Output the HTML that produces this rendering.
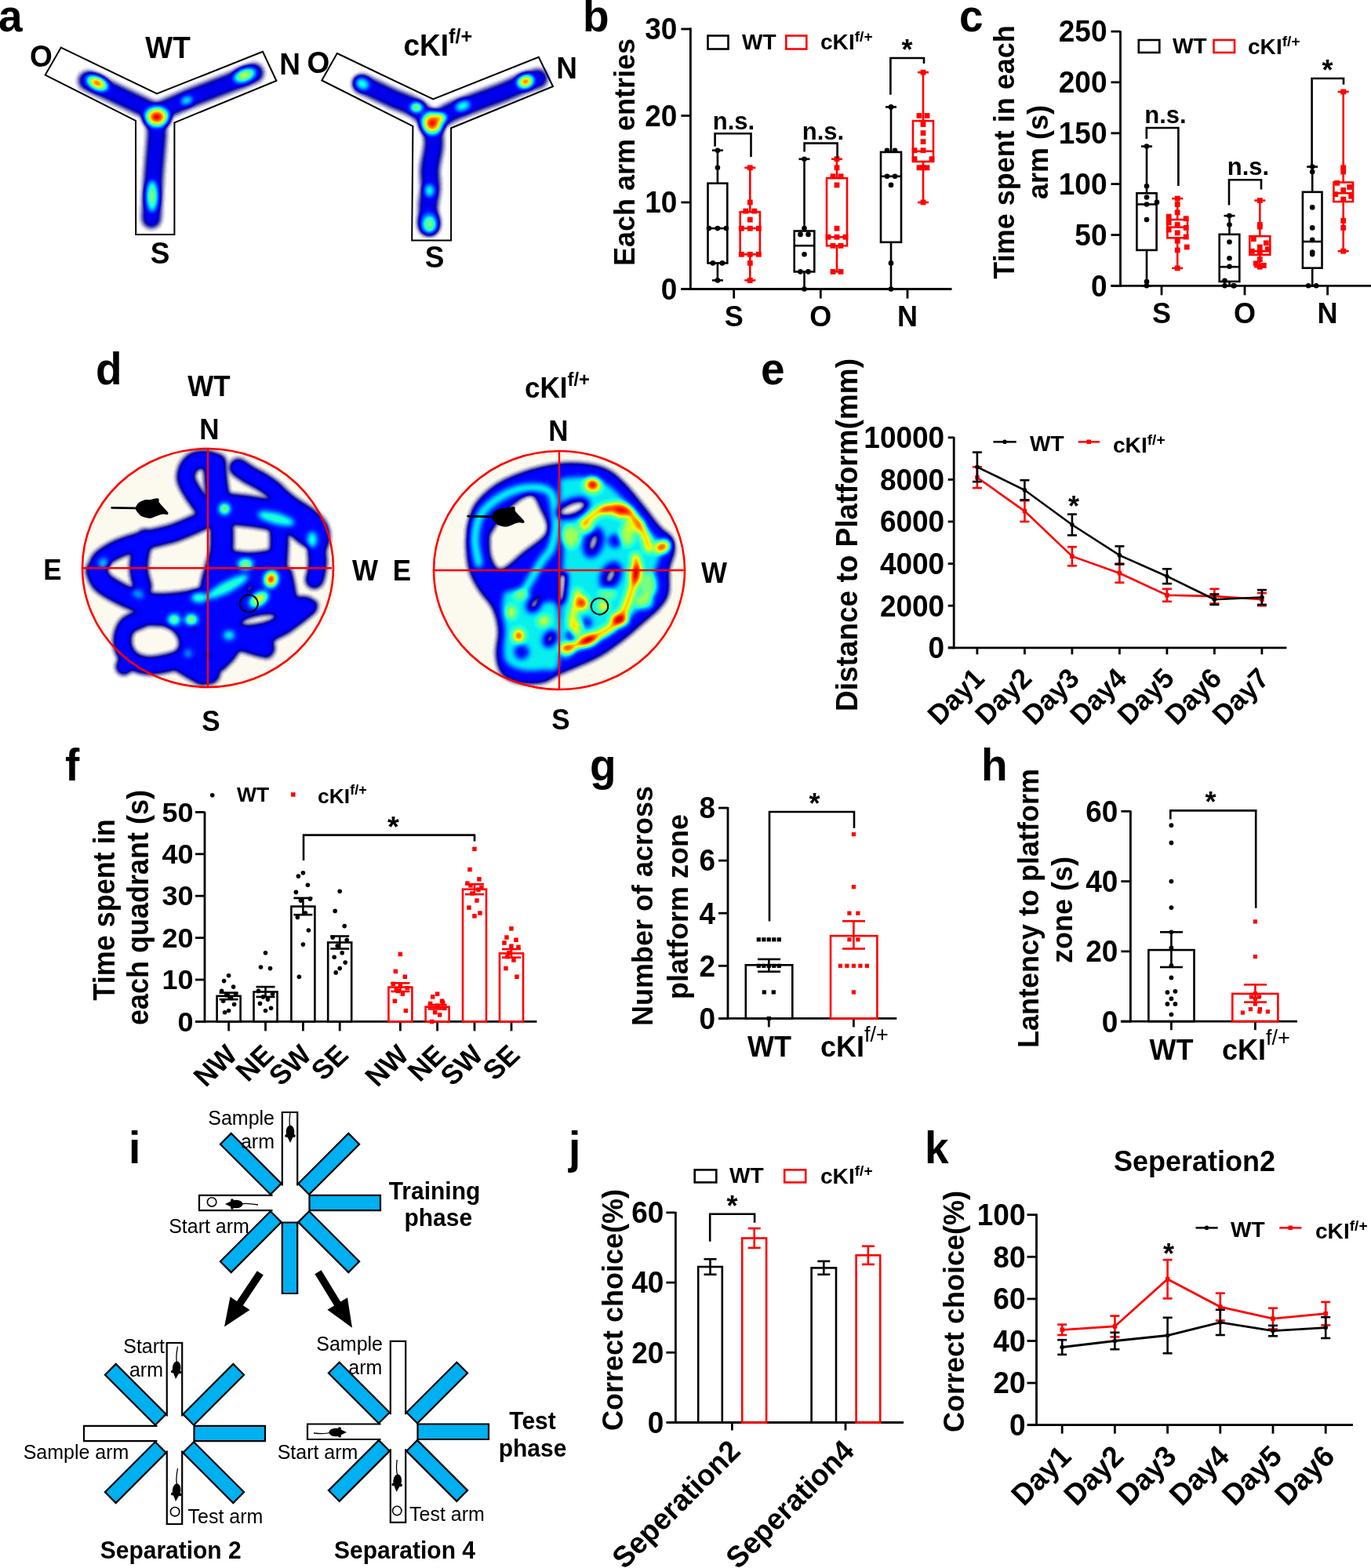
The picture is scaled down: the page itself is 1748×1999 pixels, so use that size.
<!DOCTYPE html><html><head><meta charset="utf-8"><style>html,body{margin:0;padding:0;background:#fff;}svg{display:block;}text{font-family:"Liberation Sans", sans-serif;font-weight:bold;}</style></head><body>
<svg width="1748" height="1999" viewBox="0 0 1748 1999">
<rect width="1748" height="1999" fill="#fff"/>
<text transform="translate(-2.0 40.0) scale(1 1.030)" font-size="55" text-anchor="start" fill="#000">a</text>
<text transform="translate(743.0 40.0) scale(1 1.030)" font-size="55" text-anchor="start" fill="#000">b</text>
<text transform="translate(1223.0 40.0) scale(1 1.030)" font-size="55" text-anchor="start" fill="#000">c</text>
<text transform="translate(122.0 490.0) scale(1 1.030)" font-size="55" text-anchor="start" fill="#000">d</text>
<text transform="translate(970.0 490.0) scale(1 1.030)" font-size="55" text-anchor="start" fill="#000">e</text>
<text transform="translate(83.0 995.0) scale(1 1.030)" font-size="55" text-anchor="start" fill="#000">f</text>
<text transform="translate(752.0 995.0) scale(1 1.030)" font-size="55" text-anchor="start" fill="#000">g</text>
<text transform="translate(1251.0 995.0) scale(1 1.030)" font-size="55" text-anchor="start" fill="#000">h</text>
<text transform="translate(164.0 1483.0) scale(1 1.030)" font-size="55" text-anchor="start" fill="#000">i</text>
<text transform="translate(725.0 1483.0) scale(1 1.030)" font-size="55" text-anchor="start" fill="#000">j</text>
<text transform="translate(1179.0 1483.0) scale(1 1.030)" font-size="55" text-anchor="start" fill="#000">k</text>
<line x1="880.4" y1="369.9" x2="880.4" y2="35.5" stroke="#000" stroke-width="2.8"/>
<line x1="868.4" y1="368.5" x2="880.4" y2="368.5" stroke="#000" stroke-width="2.8"/>
<text transform="translate(863.4 381.8) scale(1 1.030)" font-size="37" text-anchor="end" fill="#000">0</text>
<line x1="868.4" y1="258.0" x2="880.4" y2="258.0" stroke="#000" stroke-width="2.8"/>
<text transform="translate(863.4 271.3) scale(1 1.030)" font-size="37" text-anchor="end" fill="#000">10</text>
<line x1="868.4" y1="147.5" x2="880.4" y2="147.5" stroke="#000" stroke-width="2.8"/>
<text transform="translate(863.4 160.8) scale(1 1.030)" font-size="37" text-anchor="end" fill="#000">20</text>
<line x1="868.4" y1="37.0" x2="880.4" y2="37.0" stroke="#000" stroke-width="2.8"/>
<text transform="translate(863.4 50.3) scale(1 1.030)" font-size="37" text-anchor="end" fill="#000">30</text>
<line x1="868.5" y1="368.5" x2="1213.5" y2="368.5" stroke="#000" stroke-width="2.8"/>
<line x1="935.7" y1="368.5" x2="935.7" y2="380.5" stroke="#000" stroke-width="2.8"/>
<line x1="1046.3" y1="368.5" x2="1046.3" y2="380.5" stroke="#000" stroke-width="2.8"/>
<line x1="1157.0" y1="368.5" x2="1157.0" y2="380.5" stroke="#000" stroke-width="2.8"/>
<text transform="translate(935.7 416.0) scale(1 1.030)" font-size="36" text-anchor="middle" fill="#000">S</text>
<text transform="translate(1046.3 416.0) scale(1 1.030)" font-size="36" text-anchor="middle" fill="#000">O</text>
<text transform="translate(1157.0 416.0) scale(1 1.030)" font-size="36" text-anchor="middle" fill="#000">N</text>
<text transform="translate(808.5 194.0) rotate(-90) scale(1 1.030)" font-size="36" text-anchor="middle" fill="#000">Each arm entries</text>
<rect x="902.5" y="45.5" width="26.0" height="17.0" fill="none" stroke="#000" stroke-width="2.6"/>
<text transform="translate(946.0 62.5) scale(1.040 1) scale(1 1.030)" font-size="27" text-anchor="start" fill="#000">WT</text>
<rect x="1002.3" y="45.5" width="26.0" height="17.0" fill="none" stroke="#f00" stroke-width="2.6"/>
<text transform="translate(1046.0 63.0) scale(1.040 1) scale(1 1.030)" font-size="27" text-anchor="start" fill="#000">cKI<tspan font-size="18.4" dy="-10.0">f/+</tspan></text>
<line x1="914.9" y1="191.7" x2="914.9" y2="233.7" stroke="#000" stroke-width="2.6"/>
<line x1="914.9" y1="335.4" x2="914.9" y2="357.4" stroke="#000" stroke-width="2.6"/>
<line x1="907.9" y1="191.7" x2="921.9" y2="191.7" stroke="#000" stroke-width="2.6"/>
<line x1="907.9" y1="357.4" x2="921.9" y2="357.4" stroke="#000" stroke-width="2.6"/>
<rect x="902.5" y="233.7" width="24.8" height="101.7" fill="none" stroke="#000" stroke-width="2.6"/>
<line x1="902.5" y1="291.1" x2="927.3" y2="291.1" stroke="#000" stroke-width="2.6"/>
<circle cx="914.9" cy="191.7" r="3.3" fill="#000"/>
<circle cx="914.9" cy="213.8" r="3.3" fill="#000"/>
<circle cx="903.9" cy="291.1" r="3.3" fill="#000"/>
<circle cx="914.9" cy="291.1" r="3.3" fill="#000"/>
<circle cx="925.9" cy="291.1" r="3.3" fill="#000"/>
<circle cx="908.9" cy="335.4" r="3.3" fill="#000"/>
<circle cx="920.9" cy="335.4" r="3.3" fill="#000"/>
<circle cx="914.9" cy="357.4" r="3.3" fill="#000"/>
<line x1="956.3" y1="213.8" x2="956.3" y2="270.2" stroke="#f00" stroke-width="2.6"/>
<line x1="956.3" y1="324.3" x2="956.3" y2="357.4" stroke="#f00" stroke-width="2.6"/>
<line x1="949.3" y1="213.8" x2="963.3" y2="213.8" stroke="#f00" stroke-width="2.6"/>
<line x1="949.3" y1="357.4" x2="963.3" y2="357.4" stroke="#f00" stroke-width="2.6"/>
<rect x="943.7" y="270.2" width="25.2" height="54.1" fill="none" stroke="#f00" stroke-width="2.6"/>
<line x1="943.7" y1="291.1" x2="968.9" y2="291.1" stroke="#f00" stroke-width="2.6"/>
<rect x="952.9" y="210.4" width="6.8" height="6.8" fill="#f00"/>
<rect x="952.9" y="254.6" width="6.8" height="6.8" fill="#f00"/>
<rect x="947.4" y="265.7" width="6.8" height="6.8" fill="#f00"/>
<rect x="958.4" y="265.7" width="6.8" height="6.8" fill="#f00"/>
<rect x="952.9" y="276.7" width="6.8" height="6.8" fill="#f00"/>
<rect x="941.9" y="287.8" width="6.8" height="6.8" fill="#f00"/>
<rect x="952.9" y="287.8" width="6.8" height="6.8" fill="#f00"/>
<rect x="963.9" y="287.8" width="6.8" height="6.8" fill="#f00"/>
<rect x="941.9" y="320.9" width="6.8" height="6.8" fill="#f00"/>
<rect x="952.9" y="320.9" width="6.8" height="6.8" fill="#f00"/>
<rect x="963.9" y="320.9" width="6.8" height="6.8" fill="#f00"/>
<rect x="952.9" y="332.0" width="6.8" height="6.8" fill="#f00"/>
<rect x="952.9" y="354.1" width="6.8" height="6.8" fill="#f00"/>
<line x1="1025.5" y1="202.8" x2="1025.5" y2="294.5" stroke="#000" stroke-width="2.6"/>
<line x1="1025.5" y1="346.4" x2="1025.5" y2="368.5" stroke="#000" stroke-width="2.6"/>
<line x1="1018.5" y1="202.8" x2="1032.5" y2="202.8" stroke="#000" stroke-width="2.6"/>
<line x1="1018.5" y1="368.5" x2="1032.5" y2="368.5" stroke="#000" stroke-width="2.6"/>
<rect x="1012.7" y="294.5" width="25.6" height="51.9" fill="none" stroke="#000" stroke-width="2.6"/>
<line x1="1012.7" y1="313.2" x2="1038.3" y2="313.2" stroke="#000" stroke-width="2.6"/>
<circle cx="1025.5" cy="202.8" r="3.3" fill="#000"/>
<circle cx="1025.5" cy="291.1" r="3.3" fill="#000"/>
<circle cx="1020.5" cy="298.9" r="3.3" fill="#000"/>
<circle cx="1030.5" cy="298.9" r="3.3" fill="#000"/>
<circle cx="1025.5" cy="324.3" r="3.3" fill="#000"/>
<circle cx="1020.5" cy="346.4" r="3.3" fill="#000"/>
<circle cx="1030.5" cy="346.4" r="3.3" fill="#000"/>
<circle cx="1025.5" cy="368.5" r="3.3" fill="#000"/>
<line x1="1067.0" y1="202.8" x2="1067.0" y2="227.1" stroke="#f00" stroke-width="2.6"/>
<line x1="1067.0" y1="313.2" x2="1067.0" y2="346.4" stroke="#f00" stroke-width="2.6"/>
<line x1="1060.0" y1="202.8" x2="1074.0" y2="202.8" stroke="#f00" stroke-width="2.6"/>
<line x1="1060.0" y1="346.4" x2="1074.0" y2="346.4" stroke="#f00" stroke-width="2.6"/>
<rect x="1054.0" y="227.1" width="26.0" height="86.2" fill="none" stroke="#f00" stroke-width="2.6"/>
<line x1="1054.0" y1="302.2" x2="1080.0" y2="302.2" stroke="#f00" stroke-width="2.6"/>
<rect x="1063.6" y="199.3" width="6.8" height="6.8" fill="#f00"/>
<rect x="1063.6" y="210.4" width="6.8" height="6.8" fill="#f00"/>
<rect x="1058.6" y="221.4" width="6.8" height="6.8" fill="#f00"/>
<rect x="1068.6" y="221.4" width="6.8" height="6.8" fill="#f00"/>
<rect x="1063.6" y="232.5" width="6.8" height="6.8" fill="#f00"/>
<rect x="1063.6" y="287.8" width="6.8" height="6.8" fill="#f00"/>
<rect x="1052.6" y="298.8" width="6.8" height="6.8" fill="#f00"/>
<rect x="1063.6" y="298.8" width="6.8" height="6.8" fill="#f00"/>
<rect x="1074.6" y="298.8" width="6.8" height="6.8" fill="#f00"/>
<rect x="1058.6" y="309.9" width="6.8" height="6.8" fill="#f00"/>
<rect x="1068.6" y="309.9" width="6.8" height="6.8" fill="#f00"/>
<rect x="1058.6" y="343.0" width="6.8" height="6.8" fill="#f00"/>
<rect x="1068.6" y="343.0" width="6.8" height="6.8" fill="#f00"/>
<line x1="1136.0" y1="136.4" x2="1136.0" y2="193.9" stroke="#000" stroke-width="2.6"/>
<line x1="1136.0" y1="308.8" x2="1136.0" y2="368.5" stroke="#000" stroke-width="2.6"/>
<line x1="1129.0" y1="136.4" x2="1143.0" y2="136.4" stroke="#000" stroke-width="2.6"/>
<line x1="1129.0" y1="368.5" x2="1143.0" y2="368.5" stroke="#000" stroke-width="2.6"/>
<rect x="1123.0" y="193.9" width="26.0" height="114.9" fill="none" stroke="#000" stroke-width="2.6"/>
<line x1="1123.0" y1="224.8" x2="1149.0" y2="224.8" stroke="#000" stroke-width="2.6"/>
<circle cx="1136.0" cy="136.4" r="3.3" fill="#000"/>
<circle cx="1131.0" cy="191.7" r="3.3" fill="#000"/>
<circle cx="1141.0" cy="191.7" r="3.3" fill="#000"/>
<circle cx="1131.0" cy="224.8" r="3.3" fill="#000"/>
<circle cx="1141.0" cy="224.8" r="3.3" fill="#000"/>
<circle cx="1136.0" cy="235.9" r="3.3" fill="#000"/>
<circle cx="1136.0" cy="335.4" r="3.3" fill="#000"/>
<circle cx="1136.0" cy="368.5" r="3.3" fill="#000"/>
<line x1="1177.0" y1="92.2" x2="1177.0" y2="154.1" stroke="#f00" stroke-width="2.6"/>
<line x1="1177.0" y1="206.1" x2="1177.0" y2="258.0" stroke="#f00" stroke-width="2.6"/>
<line x1="1170.0" y1="92.2" x2="1184.0" y2="92.2" stroke="#f00" stroke-width="2.6"/>
<line x1="1170.0" y1="258.0" x2="1184.0" y2="258.0" stroke="#f00" stroke-width="2.6"/>
<rect x="1164.0" y="154.1" width="26.0" height="51.9" fill="none" stroke="#f00" stroke-width="2.6"/>
<line x1="1164.0" y1="192.8" x2="1190.0" y2="192.8" stroke="#f00" stroke-width="2.6"/>
<rect x="1173.6" y="88.8" width="6.8" height="6.8" fill="#f00"/>
<rect x="1168.6" y="144.1" width="6.8" height="6.8" fill="#f00"/>
<rect x="1178.6" y="144.1" width="6.8" height="6.8" fill="#f00"/>
<rect x="1173.6" y="155.1" width="6.8" height="6.8" fill="#f00"/>
<rect x="1173.6" y="166.2" width="6.8" height="6.8" fill="#f00"/>
<rect x="1173.6" y="177.2" width="6.8" height="6.8" fill="#f00"/>
<rect x="1162.6" y="188.3" width="6.8" height="6.8" fill="#f00"/>
<rect x="1173.6" y="188.3" width="6.8" height="6.8" fill="#f00"/>
<rect x="1184.6" y="199.3" width="6.8" height="6.8" fill="#f00"/>
<rect x="1162.6" y="199.3" width="6.8" height="6.8" fill="#f00"/>
<rect x="1173.6" y="210.4" width="6.8" height="6.8" fill="#f00"/>
<rect x="1178.6" y="210.4" width="6.8" height="6.8" fill="#f00"/>
<rect x="1168.6" y="210.4" width="6.8" height="6.8" fill="#f00"/>
<rect x="1173.6" y="254.6" width="6.8" height="6.8" fill="#f00"/>
<polyline points="911.6,186.7 911.6,170.2 957.5,170.2 957.5,200.0" fill="none" stroke="#000" stroke-width="2.6" stroke-linejoin="miter"/>
<text transform="translate(935.5 164.5) scale(1 1.030)" font-size="31" text-anchor="middle" fill="#000">n.s.</text>
<polyline points="1025.6,193.6 1025.6,182.6 1067.6,182.6 1067.6,201.8" fill="none" stroke="#000" stroke-width="2.6" stroke-linejoin="miter"/>
<text transform="translate(1049.5 178.0) scale(1 1.030)" font-size="31" text-anchor="middle" fill="#000">n.s.</text>
<polyline points="1135.4,120.8 1135.4,74.0 1178.0,74.0 1178.0,81.0" fill="none" stroke="#000" stroke-width="2.6" stroke-linejoin="miter"/>
<text transform="translate(1156.5 76.0) scale(1 1.030)" font-size="36" text-anchor="middle" fill="#000">*</text>
<line x1="1428.5" y1="365.7" x2="1428.5" y2="39.5" stroke="#000" stroke-width="2.8"/>
<line x1="1416.5" y1="364.3" x2="1428.5" y2="364.3" stroke="#000" stroke-width="2.8"/>
<text transform="translate(1411.5 377.6) scale(1 1.030)" font-size="37" text-anchor="end" fill="#000">0</text>
<line x1="1416.5" y1="299.5" x2="1428.5" y2="299.5" stroke="#000" stroke-width="2.8"/>
<text transform="translate(1411.5 312.8) scale(1 1.030)" font-size="37" text-anchor="end" fill="#000">50</text>
<line x1="1416.5" y1="234.6" x2="1428.5" y2="234.6" stroke="#000" stroke-width="2.8"/>
<text transform="translate(1411.5 247.9) scale(1 1.030)" font-size="37" text-anchor="end" fill="#000">100</text>
<line x1="1416.5" y1="169.8" x2="1428.5" y2="169.8" stroke="#000" stroke-width="2.8"/>
<text transform="translate(1411.5 183.1) scale(1 1.030)" font-size="37" text-anchor="end" fill="#000">150</text>
<line x1="1416.5" y1="104.9" x2="1428.5" y2="104.9" stroke="#000" stroke-width="2.8"/>
<text transform="translate(1411.5 118.2) scale(1 1.030)" font-size="37" text-anchor="end" fill="#000">200</text>
<line x1="1416.5" y1="40.1" x2="1428.5" y2="40.1" stroke="#000" stroke-width="2.8"/>
<text transform="translate(1411.5 53.4) scale(1 1.030)" font-size="37" text-anchor="end" fill="#000">250</text>
<line x1="1416.5" y1="364.3" x2="1748.0" y2="364.3" stroke="#000" stroke-width="2.8"/>
<line x1="1481.0" y1="364.3" x2="1481.0" y2="376.3" stroke="#000" stroke-width="2.8"/>
<line x1="1587.0" y1="364.3" x2="1587.0" y2="376.3" stroke="#000" stroke-width="2.8"/>
<line x1="1692.6" y1="364.3" x2="1692.6" y2="376.3" stroke="#000" stroke-width="2.8"/>
<text transform="translate(1481.0 411.5) scale(1 1.030)" font-size="36" text-anchor="middle" fill="#000">S</text>
<text transform="translate(1587.0 411.5) scale(1 1.030)" font-size="36" text-anchor="middle" fill="#000">O</text>
<text transform="translate(1692.6 411.5) scale(1 1.030)" font-size="36" text-anchor="middle" fill="#000">N</text>
<text transform="translate(1292.5 194.0) rotate(-90) scale(1 1.030)" font-size="36" text-anchor="middle" fill="#000">Time spent in each</text>
<text transform="translate(1335.5 194.0) rotate(-90) scale(1 1.030)" font-size="36" text-anchor="middle" fill="#000">arm (s)</text>
<rect x="1451.8" y="51.0" width="26.5" height="16.0" fill="none" stroke="#000" stroke-width="2.6"/>
<text transform="translate(1495.0 67.5) scale(1.040 1) scale(1 1.030)" font-size="27" text-anchor="start" fill="#000">WT</text>
<rect x="1547.5" y="51.0" width="26.5" height="16.0" fill="none" stroke="#f00" stroke-width="2.6"/>
<text transform="translate(1591.0 69.0) scale(1.040 1) scale(1 1.030)" font-size="27" text-anchor="start" fill="#000">cKI<tspan font-size="18.4" dy="-10.0">f/+</tspan></text>
<line x1="1462.0" y1="186.6" x2="1462.0" y2="246.3" stroke="#000" stroke-width="2.6"/>
<line x1="1462.0" y1="318.9" x2="1462.0" y2="364.3" stroke="#000" stroke-width="2.6"/>
<line x1="1455.0" y1="186.6" x2="1469.0" y2="186.6" stroke="#000" stroke-width="2.6"/>
<line x1="1455.0" y1="364.3" x2="1469.0" y2="364.3" stroke="#000" stroke-width="2.6"/>
<rect x="1449.4" y="246.3" width="25.2" height="72.6" fill="none" stroke="#000" stroke-width="2.6"/>
<line x1="1449.4" y1="260.5" x2="1474.6" y2="260.5" stroke="#000" stroke-width="2.6"/>
<circle cx="1462.0" cy="186.6" r="3.3" fill="#000"/>
<circle cx="1462.0" cy="237.2" r="3.3" fill="#000"/>
<circle cx="1462.0" cy="251.5" r="3.3" fill="#000"/>
<circle cx="1475.0" cy="257.9" r="3.3" fill="#000"/>
<circle cx="1462.0" cy="260.5" r="3.3" fill="#000"/>
<circle cx="1462.0" cy="280.0" r="3.3" fill="#000"/>
<circle cx="1462.0" cy="359.1" r="3.3" fill="#000"/>
<circle cx="1462.0" cy="364.3" r="3.3" fill="#000"/>
<line x1="1501.2" y1="253.1" x2="1501.2" y2="280.0" stroke="#f00" stroke-width="2.6"/>
<line x1="1501.2" y1="303.3" x2="1501.2" y2="341.9" stroke="#f00" stroke-width="2.6"/>
<line x1="1494.2" y1="253.1" x2="1508.2" y2="253.1" stroke="#f00" stroke-width="2.6"/>
<line x1="1494.2" y1="341.9" x2="1508.2" y2="341.9" stroke="#f00" stroke-width="2.6"/>
<rect x="1488.4" y="280.0" width="25.6" height="23.3" fill="none" stroke="#f00" stroke-width="2.6"/>
<line x1="1488.4" y1="289.7" x2="1514.0" y2="289.7" stroke="#f00" stroke-width="2.6"/>
<rect x="1497.8" y="249.7" width="6.8" height="6.8" fill="#f00"/>
<rect x="1497.8" y="257.1" width="6.8" height="6.8" fill="#f00"/>
<rect x="1497.8" y="267.5" width="6.8" height="6.8" fill="#f00"/>
<rect x="1486.8" y="272.7" width="6.8" height="6.8" fill="#f00"/>
<rect x="1508.8" y="275.3" width="6.8" height="6.8" fill="#f00"/>
<rect x="1486.8" y="280.5" width="6.8" height="6.8" fill="#f00"/>
<rect x="1497.8" y="283.1" width="6.8" height="6.8" fill="#f00"/>
<rect x="1508.8" y="287.0" width="6.8" height="6.8" fill="#f00"/>
<rect x="1486.8" y="289.6" width="6.8" height="6.8" fill="#f00"/>
<rect x="1497.8" y="293.5" width="6.8" height="6.8" fill="#f00"/>
<rect x="1508.8" y="298.6" width="6.8" height="6.8" fill="#f00"/>
<rect x="1497.8" y="303.8" width="6.8" height="6.8" fill="#f00"/>
<rect x="1509.8" y="311.6" width="6.8" height="6.8" fill="#f00"/>
<rect x="1497.8" y="315.5" width="6.8" height="6.8" fill="#f00"/>
<rect x="1497.8" y="338.5" width="6.8" height="6.8" fill="#f00"/>
<line x1="1567.5" y1="275.1" x2="1567.5" y2="298.8" stroke="#000" stroke-width="2.6"/>
<line x1="1567.5" y1="358.9" x2="1567.5" y2="364.3" stroke="#000" stroke-width="2.6"/>
<line x1="1560.5" y1="275.1" x2="1574.5" y2="275.1" stroke="#000" stroke-width="2.6"/>
<line x1="1560.5" y1="364.3" x2="1574.5" y2="364.3" stroke="#000" stroke-width="2.6"/>
<rect x="1554.7" y="298.8" width="25.6" height="60.1" fill="none" stroke="#000" stroke-width="2.6"/>
<line x1="1554.7" y1="340.2" x2="1580.3" y2="340.2" stroke="#000" stroke-width="2.6"/>
<circle cx="1567.5" cy="275.1" r="3.3" fill="#000"/>
<circle cx="1567.5" cy="286.5" r="3.3" fill="#000"/>
<circle cx="1567.5" cy="308.5" r="3.3" fill="#000"/>
<circle cx="1567.5" cy="329.3" r="3.3" fill="#000"/>
<circle cx="1567.5" cy="339.7" r="3.3" fill="#000"/>
<circle cx="1561.5" cy="357.8" r="3.3" fill="#000"/>
<circle cx="1572.5" cy="364.3" r="3.3" fill="#000"/>
<circle cx="1561.5" cy="364.3" r="3.3" fill="#000"/>
<circle cx="1573.5" cy="364.3" r="3.3" fill="#000"/>
<line x1="1606.3" y1="255.6" x2="1606.3" y2="301.1" stroke="#f00" stroke-width="2.6"/>
<line x1="1606.3" y1="324.9" x2="1606.3" y2="340.2" stroke="#f00" stroke-width="2.6"/>
<line x1="1599.3" y1="255.6" x2="1613.3" y2="255.6" stroke="#f00" stroke-width="2.6"/>
<line x1="1599.3" y1="340.2" x2="1613.3" y2="340.2" stroke="#f00" stroke-width="2.6"/>
<rect x="1593.3" y="301.1" width="26.0" height="23.7" fill="none" stroke="#f00" stroke-width="2.6"/>
<line x1="1593.3" y1="320.2" x2="1619.3" y2="320.2" stroke="#f00" stroke-width="2.6"/>
<rect x="1602.9" y="252.2" width="6.8" height="6.8" fill="#f00"/>
<rect x="1602.9" y="283.1" width="6.8" height="6.8" fill="#f00"/>
<rect x="1602.9" y="285.7" width="6.8" height="6.8" fill="#f00"/>
<rect x="1594.9" y="301.2" width="6.8" height="6.8" fill="#f00"/>
<rect x="1610.9" y="306.4" width="6.8" height="6.8" fill="#f00"/>
<rect x="1602.9" y="311.6" width="6.8" height="6.8" fill="#f00"/>
<rect x="1592.9" y="316.8" width="6.8" height="6.8" fill="#f00"/>
<rect x="1602.9" y="318.1" width="6.8" height="6.8" fill="#f00"/>
<rect x="1612.9" y="314.2" width="6.8" height="6.8" fill="#f00"/>
<rect x="1602.9" y="327.2" width="6.8" height="6.8" fill="#f00"/>
<rect x="1597.9" y="332.4" width="6.8" height="6.8" fill="#f00"/>
<rect x="1607.9" y="335.0" width="6.8" height="6.8" fill="#f00"/>
<rect x="1602.9" y="336.8" width="6.8" height="6.8" fill="#f00"/>
<line x1="1673.2" y1="212.6" x2="1673.2" y2="244.8" stroke="#000" stroke-width="2.6"/>
<line x1="1673.2" y1="341.7" x2="1673.2" y2="364.3" stroke="#000" stroke-width="2.6"/>
<line x1="1666.2" y1="212.6" x2="1680.2" y2="212.6" stroke="#000" stroke-width="2.6"/>
<line x1="1666.2" y1="364.3" x2="1680.2" y2="364.3" stroke="#000" stroke-width="2.6"/>
<rect x="1660.9" y="244.8" width="24.6" height="96.9" fill="none" stroke="#000" stroke-width="2.6"/>
<line x1="1660.9" y1="308.0" x2="1685.5" y2="308.0" stroke="#000" stroke-width="2.6"/>
<circle cx="1673.2" cy="212.6" r="3.3" fill="#000"/>
<circle cx="1673.2" cy="219.0" r="3.3" fill="#000"/>
<circle cx="1673.2" cy="264.4" r="3.3" fill="#000"/>
<circle cx="1673.2" cy="290.4" r="3.3" fill="#000"/>
<circle cx="1673.2" cy="305.9" r="3.3" fill="#000"/>
<circle cx="1673.2" cy="321.5" r="3.3" fill="#000"/>
<circle cx="1673.2" cy="324.1" r="3.3" fill="#000"/>
<circle cx="1668.2" cy="364.3" r="3.3" fill="#000"/>
<circle cx="1678.2" cy="364.3" r="3.3" fill="#000"/>
<line x1="1712.7" y1="117.0" x2="1712.7" y2="232.5" stroke="#f00" stroke-width="2.6"/>
<line x1="1712.7" y1="257.2" x2="1712.7" y2="320.2" stroke="#f00" stroke-width="2.6"/>
<line x1="1705.7" y1="117.0" x2="1719.7" y2="117.0" stroke="#f00" stroke-width="2.6"/>
<line x1="1705.7" y1="320.2" x2="1719.7" y2="320.2" stroke="#f00" stroke-width="2.6"/>
<rect x="1700.4" y="232.5" width="24.6" height="24.6" fill="none" stroke="#f00" stroke-width="2.6"/>
<line x1="1700.4" y1="246.3" x2="1725.0" y2="246.3" stroke="#f00" stroke-width="2.6"/>
<rect x="1709.3" y="113.6" width="6.8" height="6.8" fill="#f00"/>
<rect x="1709.3" y="210.4" width="6.8" height="6.8" fill="#f00"/>
<rect x="1709.3" y="215.6" width="6.8" height="6.8" fill="#f00"/>
<rect x="1701.3" y="229.9" width="6.8" height="6.8" fill="#f00"/>
<rect x="1717.3" y="235.1" width="6.8" height="6.8" fill="#f00"/>
<rect x="1709.3" y="239.0" width="6.8" height="6.8" fill="#f00"/>
<rect x="1699.3" y="244.2" width="6.8" height="6.8" fill="#f00"/>
<rect x="1719.3" y="246.8" width="6.8" height="6.8" fill="#f00"/>
<rect x="1709.3" y="250.7" width="6.8" height="6.8" fill="#f00"/>
<rect x="1709.3" y="277.9" width="6.8" height="6.8" fill="#f00"/>
<rect x="1709.3" y="287.0" width="6.8" height="6.8" fill="#f00"/>
<rect x="1709.3" y="316.8" width="6.8" height="6.8" fill="#f00"/>
<polyline points="1461.8,177.0 1461.8,163.0 1502.4,163.0 1502.4,237.0" fill="none" stroke="#000" stroke-width="2.6" stroke-linejoin="miter"/>
<text transform="translate(1486.0 156.5) scale(1 1.030)" font-size="31" text-anchor="middle" fill="#000">n.s.</text>
<polyline points="1567.0,261.6 1567.0,229.3 1608.0,229.3 1608.0,241.6" fill="none" stroke="#000" stroke-width="2.6" stroke-linejoin="miter"/>
<text transform="translate(1591.5 222.5) scale(1 1.030)" font-size="31" text-anchor="middle" fill="#000">n.s.</text>
<polyline points="1672.6,210.8 1672.6,100.0 1713.0,100.0 1713.0,107.7" fill="none" stroke="#000" stroke-width="2.6" stroke-linejoin="miter"/>
<text transform="translate(1692.5 102.0) scale(1 1.030)" font-size="36" text-anchor="middle" fill="#000">*</text>
<line x1="1216.2" y1="827.2" x2="1216.2" y2="557.0" stroke="#000" stroke-width="2.8"/>
<line x1="1208.7" y1="825.8" x2="1216.2" y2="825.8" stroke="#000" stroke-width="2.8"/>
<text transform="translate(1204.2 839.1) scale(1 1.030)" font-size="37" text-anchor="end" fill="#000">0</text>
<line x1="1208.7" y1="772.2" x2="1216.2" y2="772.2" stroke="#000" stroke-width="2.8"/>
<text transform="translate(1204.2 785.5) scale(1 1.030)" font-size="37" text-anchor="end" fill="#000">2000</text>
<line x1="1208.7" y1="718.6" x2="1216.2" y2="718.6" stroke="#000" stroke-width="2.8"/>
<text transform="translate(1204.2 731.9) scale(1 1.030)" font-size="37" text-anchor="end" fill="#000">4000</text>
<line x1="1208.7" y1="665.0" x2="1216.2" y2="665.0" stroke="#000" stroke-width="2.8"/>
<text transform="translate(1204.2 678.3) scale(1 1.030)" font-size="37" text-anchor="end" fill="#000">6000</text>
<line x1="1208.7" y1="611.4" x2="1216.2" y2="611.4" stroke="#000" stroke-width="2.8"/>
<text transform="translate(1204.2 624.7) scale(1 1.030)" font-size="37" text-anchor="end" fill="#000">8000</text>
<line x1="1208.7" y1="557.8" x2="1216.2" y2="557.8" stroke="#000" stroke-width="2.8"/>
<text transform="translate(1204.2 571.1) scale(1 1.030)" font-size="37" text-anchor="end" fill="#000">10000</text>
<line x1="1209.0" y1="825.8" x2="1640.4" y2="825.8" stroke="#000" stroke-width="2.8"/>
<line x1="1245.9" y1="825.8" x2="1245.9" y2="834.3" stroke="#000" stroke-width="2.8"/>
<line x1="1306.4" y1="825.8" x2="1306.4" y2="834.3" stroke="#000" stroke-width="2.8"/>
<line x1="1366.9" y1="825.8" x2="1366.9" y2="834.3" stroke="#000" stroke-width="2.8"/>
<line x1="1427.4" y1="825.8" x2="1427.4" y2="834.3" stroke="#000" stroke-width="2.8"/>
<line x1="1487.9" y1="825.8" x2="1487.9" y2="834.3" stroke="#000" stroke-width="2.8"/>
<line x1="1548.4" y1="825.8" x2="1548.4" y2="834.3" stroke="#000" stroke-width="2.8"/>
<line x1="1608.9" y1="825.8" x2="1608.9" y2="834.3" stroke="#000" stroke-width="2.8"/>
<text transform="translate(1256.9 867.0) rotate(-45) scale(1 1.030)" font-size="35" text-anchor="end" fill="#000">Day1</text>
<text transform="translate(1317.4 867.0) rotate(-45) scale(1 1.030)" font-size="35" text-anchor="end" fill="#000">Day2</text>
<text transform="translate(1377.9 867.0) rotate(-45) scale(1 1.030)" font-size="35" text-anchor="end" fill="#000">Day3</text>
<text transform="translate(1438.4 867.0) rotate(-45) scale(1 1.030)" font-size="35" text-anchor="end" fill="#000">Day4</text>
<text transform="translate(1498.9 867.0) rotate(-45) scale(1 1.030)" font-size="35" text-anchor="end" fill="#000">Day5</text>
<text transform="translate(1559.4 867.0) rotate(-45) scale(1 1.030)" font-size="35" text-anchor="end" fill="#000">Day6</text>
<text transform="translate(1619.9 867.0) rotate(-45) scale(1 1.030)" font-size="35" text-anchor="end" fill="#000">Day7</text>
<text transform="translate(1093.0 682.0) rotate(-90) scale(1 1.030)" font-size="37" text-anchor="middle" fill="#000">Distance to Platform(mm)</text>
<line x1="1266.4" y1="563.3" x2="1295.7" y2="563.3" stroke="#000" stroke-width="2.6"/>
<circle cx="1281.0" cy="563.3" r="2.8" fill="#000"/>
<text transform="translate(1313.0 575.0) scale(1.040 1) scale(1 1.030)" font-size="27" text-anchor="start" fill="#000">WT</text>
<line x1="1374.7" y1="563.3" x2="1402.0" y2="563.3" stroke="#f00" stroke-width="2.6"/>
<rect x="1385.5" y="560.5" width="5.5" height="5.5" fill="#f00"/>
<text transform="translate(1419.0 577.0) scale(1.040 1) scale(1 1.030)" font-size="27" text-anchor="start" fill="#000">cKI<tspan font-size="18.4" dy="-10.0">f/+</tspan></text>
<polyline points="1245.9,608.7 1306.4,651.6 1366.9,709.2 1427.4,730.7 1487.9,758.8 1548.4,760.1 1608.9,764.2" fill="none" stroke="#f00" stroke-width="2.6" stroke-linejoin="miter" stroke-linejoin="round"/>
<line x1="1245.9" y1="595.3" x2="1245.9" y2="622.1" stroke="#f00" stroke-width="2.6"/>
<line x1="1239.9" y1="595.3" x2="1251.9" y2="595.3" stroke="#f00" stroke-width="2.6"/>
<line x1="1239.9" y1="622.1" x2="1251.9" y2="622.1" stroke="#f00" stroke-width="2.6"/>
<rect x="1243.2" y="606.0" width="5.5" height="5.5" fill="#f00"/>
<line x1="1306.4" y1="638.2" x2="1306.4" y2="665.0" stroke="#f00" stroke-width="2.6"/>
<line x1="1300.4" y1="638.2" x2="1312.4" y2="638.2" stroke="#f00" stroke-width="2.6"/>
<line x1="1300.4" y1="665.0" x2="1312.4" y2="665.0" stroke="#f00" stroke-width="2.6"/>
<rect x="1303.7" y="648.8" width="5.5" height="5.5" fill="#f00"/>
<line x1="1366.9" y1="697.2" x2="1366.9" y2="721.3" stroke="#f00" stroke-width="2.6"/>
<line x1="1360.9" y1="697.2" x2="1372.9" y2="697.2" stroke="#f00" stroke-width="2.6"/>
<line x1="1360.9" y1="721.3" x2="1372.9" y2="721.3" stroke="#f00" stroke-width="2.6"/>
<rect x="1364.2" y="706.5" width="5.5" height="5.5" fill="#f00"/>
<line x1="1427.4" y1="718.6" x2="1427.4" y2="742.7" stroke="#f00" stroke-width="2.6"/>
<line x1="1421.4" y1="718.6" x2="1433.4" y2="718.6" stroke="#f00" stroke-width="2.6"/>
<line x1="1421.4" y1="742.7" x2="1433.4" y2="742.7" stroke="#f00" stroke-width="2.6"/>
<rect x="1424.7" y="727.9" width="5.5" height="5.5" fill="#f00"/>
<line x1="1487.9" y1="750.8" x2="1487.9" y2="766.8" stroke="#f00" stroke-width="2.6"/>
<line x1="1481.9" y1="750.8" x2="1493.9" y2="750.8" stroke="#f00" stroke-width="2.6"/>
<line x1="1481.9" y1="766.8" x2="1493.9" y2="766.8" stroke="#f00" stroke-width="2.6"/>
<rect x="1485.2" y="756.0" width="5.5" height="5.5" fill="#f00"/>
<line x1="1548.4" y1="750.8" x2="1548.4" y2="769.5" stroke="#f00" stroke-width="2.6"/>
<line x1="1542.4" y1="750.8" x2="1554.4" y2="750.8" stroke="#f00" stroke-width="2.6"/>
<line x1="1542.4" y1="769.5" x2="1554.4" y2="769.5" stroke="#f00" stroke-width="2.6"/>
<rect x="1545.7" y="757.4" width="5.5" height="5.5" fill="#f00"/>
<line x1="1608.9" y1="756.1" x2="1608.9" y2="772.2" stroke="#f00" stroke-width="2.6"/>
<line x1="1602.9" y1="756.1" x2="1614.9" y2="756.1" stroke="#f00" stroke-width="2.6"/>
<line x1="1602.9" y1="772.2" x2="1614.9" y2="772.2" stroke="#f00" stroke-width="2.6"/>
<rect x="1606.2" y="761.4" width="5.5" height="5.5" fill="#f00"/>
<polyline points="1245.9,595.3 1306.4,624.8 1366.9,669.0 1427.4,707.9 1487.9,734.7 1548.4,764.2 1608.9,761.5" fill="none" stroke="#000" stroke-width="2.6" stroke-linejoin="miter" stroke-linejoin="round"/>
<line x1="1245.9" y1="576.6" x2="1245.9" y2="614.1" stroke="#000" stroke-width="2.6"/>
<line x1="1239.9" y1="576.6" x2="1251.9" y2="576.6" stroke="#000" stroke-width="2.6"/>
<line x1="1239.9" y1="614.1" x2="1251.9" y2="614.1" stroke="#000" stroke-width="2.6"/>
<circle cx="1245.9" cy="595.3" r="2.8" fill="#000"/>
<line x1="1306.4" y1="612.2" x2="1306.4" y2="637.4" stroke="#000" stroke-width="2.6"/>
<line x1="1300.4" y1="612.2" x2="1312.4" y2="612.2" stroke="#000" stroke-width="2.6"/>
<line x1="1300.4" y1="637.4" x2="1312.4" y2="637.4" stroke="#000" stroke-width="2.6"/>
<circle cx="1306.4" cy="624.8" r="2.8" fill="#000"/>
<line x1="1366.9" y1="655.6" x2="1366.9" y2="682.4" stroke="#000" stroke-width="2.6"/>
<line x1="1360.9" y1="655.6" x2="1372.9" y2="655.6" stroke="#000" stroke-width="2.6"/>
<line x1="1360.9" y1="682.4" x2="1372.9" y2="682.4" stroke="#000" stroke-width="2.6"/>
<circle cx="1366.9" cy="669.0" r="2.8" fill="#000"/>
<line x1="1427.4" y1="696.4" x2="1427.4" y2="719.4" stroke="#000" stroke-width="2.6"/>
<line x1="1421.4" y1="696.4" x2="1433.4" y2="696.4" stroke="#000" stroke-width="2.6"/>
<line x1="1421.4" y1="719.4" x2="1433.4" y2="719.4" stroke="#000" stroke-width="2.6"/>
<circle cx="1427.4" cy="707.9" r="2.8" fill="#000"/>
<line x1="1487.9" y1="725.3" x2="1487.9" y2="744.1" stroke="#000" stroke-width="2.6"/>
<line x1="1481.9" y1="725.3" x2="1493.9" y2="725.3" stroke="#000" stroke-width="2.6"/>
<line x1="1481.9" y1="744.1" x2="1493.9" y2="744.1" stroke="#000" stroke-width="2.6"/>
<circle cx="1487.9" cy="734.7" r="2.8" fill="#000"/>
<line x1="1548.4" y1="757.5" x2="1548.4" y2="770.9" stroke="#000" stroke-width="2.6"/>
<line x1="1542.4" y1="757.5" x2="1554.4" y2="757.5" stroke="#000" stroke-width="2.6"/>
<line x1="1542.4" y1="770.9" x2="1554.4" y2="770.9" stroke="#000" stroke-width="2.6"/>
<circle cx="1548.4" cy="764.2" r="2.8" fill="#000"/>
<line x1="1608.9" y1="752.1" x2="1608.9" y2="770.9" stroke="#000" stroke-width="2.6"/>
<line x1="1602.9" y1="752.1" x2="1614.9" y2="752.1" stroke="#000" stroke-width="2.6"/>
<line x1="1602.9" y1="770.9" x2="1614.9" y2="770.9" stroke="#000" stroke-width="2.6"/>
<circle cx="1608.9" cy="761.5" r="2.8" fill="#000"/>
<text transform="translate(1369.0 658.0) scale(1 1.030)" font-size="36" text-anchor="middle" fill="#000">*</text>
<line x1="261.0" y1="1303.8" x2="261.0" y2="1034.8" stroke="#000" stroke-width="2.8"/>
<line x1="249.0" y1="1302.4" x2="261.0" y2="1302.4" stroke="#000" stroke-width="2.8"/>
<text transform="translate(246.5 1314.6) scale(1.060 1) scale(1 1.030)" font-size="34" text-anchor="end" fill="#000">0</text>
<line x1="249.0" y1="1249.0" x2="261.0" y2="1249.0" stroke="#000" stroke-width="2.8"/>
<text transform="translate(246.5 1261.2) scale(1.060 1) scale(1 1.030)" font-size="34" text-anchor="end" fill="#000">10</text>
<line x1="249.0" y1="1195.6" x2="261.0" y2="1195.6" stroke="#000" stroke-width="2.8"/>
<text transform="translate(246.5 1207.8) scale(1.060 1) scale(1 1.030)" font-size="34" text-anchor="end" fill="#000">20</text>
<line x1="249.0" y1="1142.2" x2="261.0" y2="1142.2" stroke="#000" stroke-width="2.8"/>
<text transform="translate(246.5 1154.4) scale(1.060 1) scale(1 1.030)" font-size="34" text-anchor="end" fill="#000">30</text>
<line x1="249.0" y1="1088.8" x2="261.0" y2="1088.8" stroke="#000" stroke-width="2.8"/>
<text transform="translate(246.5 1101.0) scale(1.060 1) scale(1 1.030)" font-size="34" text-anchor="end" fill="#000">40</text>
<line x1="249.0" y1="1035.4" x2="261.0" y2="1035.4" stroke="#000" stroke-width="2.8"/>
<text transform="translate(246.5 1047.6) scale(1.060 1) scale(1 1.030)" font-size="34" text-anchor="end" fill="#000">50</text>
<line x1="249.0" y1="1302.4" x2="684.4" y2="1302.4" stroke="#000" stroke-width="2.8"/>
<line x1="291.6" y1="1302.4" x2="291.6" y2="1314.4" stroke="#000" stroke-width="2.8"/>
<line x1="338.5" y1="1302.4" x2="338.5" y2="1314.4" stroke="#000" stroke-width="2.8"/>
<line x1="386.4" y1="1302.4" x2="386.4" y2="1314.4" stroke="#000" stroke-width="2.8"/>
<line x1="433.2" y1="1302.4" x2="433.2" y2="1314.4" stroke="#000" stroke-width="2.8"/>
<line x1="510.4" y1="1302.4" x2="510.4" y2="1314.4" stroke="#000" stroke-width="2.8"/>
<line x1="557.6" y1="1302.4" x2="557.6" y2="1314.4" stroke="#000" stroke-width="2.8"/>
<line x1="605.0" y1="1302.4" x2="605.0" y2="1314.4" stroke="#000" stroke-width="2.8"/>
<line x1="652.0" y1="1302.4" x2="652.0" y2="1314.4" stroke="#000" stroke-width="2.8"/>
<text transform="translate(304.6 1347.0) scale(1.060 1) rotate(-45) scale(1 1.030)" font-size="34" text-anchor="end" fill="#000">NW</text>
<text transform="translate(351.5 1347.0) scale(1.060 1) rotate(-45) scale(1 1.030)" font-size="34" text-anchor="end" fill="#000">NE</text>
<text transform="translate(399.4 1347.0) scale(1.060 1) rotate(-45) scale(1 1.030)" font-size="34" text-anchor="end" fill="#000">SW</text>
<text transform="translate(446.2 1347.0) scale(1.060 1) rotate(-45) scale(1 1.030)" font-size="34" text-anchor="end" fill="#000">SE</text>
<text transform="translate(523.4 1347.0) scale(1.060 1) rotate(-45) scale(1 1.030)" font-size="34" text-anchor="end" fill="#000">NW</text>
<text transform="translate(570.6 1347.0) scale(1.060 1) rotate(-45) scale(1 1.030)" font-size="34" text-anchor="end" fill="#000">NE</text>
<text transform="translate(618.0 1347.0) scale(1.060 1) rotate(-45) scale(1 1.030)" font-size="34" text-anchor="end" fill="#000">SW</text>
<text transform="translate(665.0 1347.0) scale(1.060 1) rotate(-45) scale(1 1.030)" font-size="34" text-anchor="end" fill="#000">SE</text>
<text transform="translate(146.0 1160.0) scale(1.060 1) rotate(-90) scale(1 1.030)" font-size="36" text-anchor="middle" fill="#000">Time spent in</text>
<text transform="translate(189.0 1157.0) scale(1.060 1) rotate(-90) scale(1 1.030)" font-size="36" text-anchor="middle" fill="#000">each quadrant (s)</text>
<circle cx="270.7" cy="1013.8" r="2.8" fill="#000"/>
<text transform="translate(302.0 1022.0) scale(1.060 1) scale(1 1.030)" font-size="25" text-anchor="start" fill="#000">WT</text>
<rect x="371.1" y="1010.2" width="5.5" height="5.5" fill="#f00"/>
<text transform="translate(405.0 1024.0) scale(1.060 1) scale(1 1.030)" font-size="25" text-anchor="start" fill="#000">cKI<tspan font-size="17.0" dy="-10.5">f/+</tspan></text>
<rect x="276.6" y="1269.8" width="30.0" height="32.6" fill="none" stroke="#000" stroke-width="2.6"/>
<circle cx="291.6" cy="1243.7" r="2.8" fill="#000"/>
<circle cx="285.6" cy="1250.6" r="2.8" fill="#000"/>
<circle cx="297.6" cy="1258.1" r="2.8" fill="#000"/>
<circle cx="282.6" cy="1263.4" r="2.8" fill="#000"/>
<circle cx="300.6" cy="1267.2" r="2.8" fill="#000"/>
<circle cx="288.6" cy="1268.8" r="2.8" fill="#000"/>
<circle cx="294.6" cy="1272.5" r="2.8" fill="#000"/>
<circle cx="284.6" cy="1276.2" r="2.8" fill="#000"/>
<circle cx="298.6" cy="1280.5" r="2.8" fill="#000"/>
<circle cx="291.6" cy="1288.5" r="2.8" fill="#000"/>
<circle cx="286.6" cy="1290.7" r="2.8" fill="#000"/>
<line x1="291.6" y1="1265.6" x2="291.6" y2="1274.1" stroke="#000" stroke-width="2.6"/>
<line x1="279.6" y1="1265.6" x2="303.6" y2="1265.6" stroke="#000" stroke-width="2.6"/>
<line x1="279.6" y1="1274.1" x2="303.6" y2="1274.1" stroke="#000" stroke-width="2.6"/>
<rect x="323.5" y="1264.5" width="30.0" height="37.9" fill="none" stroke="#000" stroke-width="2.6"/>
<circle cx="338.5" cy="1214.8" r="2.8" fill="#000"/>
<circle cx="332.5" cy="1233.0" r="2.8" fill="#000"/>
<circle cx="344.5" cy="1234.6" r="2.8" fill="#000"/>
<circle cx="329.5" cy="1263.4" r="2.8" fill="#000"/>
<circle cx="347.5" cy="1267.2" r="2.8" fill="#000"/>
<circle cx="335.5" cy="1270.9" r="2.8" fill="#000"/>
<circle cx="341.5" cy="1274.1" r="2.8" fill="#000"/>
<circle cx="331.5" cy="1279.4" r="2.8" fill="#000"/>
<circle cx="345.5" cy="1285.3" r="2.8" fill="#000"/>
<circle cx="338.5" cy="1288.5" r="2.8" fill="#000"/>
<line x1="338.5" y1="1258.1" x2="338.5" y2="1270.9" stroke="#000" stroke-width="2.6"/>
<line x1="326.5" y1="1258.1" x2="350.5" y2="1258.1" stroke="#000" stroke-width="2.6"/>
<line x1="326.5" y1="1270.9" x2="350.5" y2="1270.9" stroke="#000" stroke-width="2.6"/>
<rect x="371.4" y="1155.6" width="30.0" height="146.8" fill="none" stroke="#000" stroke-width="2.6"/>
<circle cx="386.4" cy="1112.8" r="2.8" fill="#000"/>
<circle cx="380.4" cy="1117.1" r="2.8" fill="#000"/>
<circle cx="392.4" cy="1128.3" r="2.8" fill="#000"/>
<circle cx="377.4" cy="1137.4" r="2.8" fill="#000"/>
<circle cx="395.4" cy="1145.9" r="2.8" fill="#000"/>
<circle cx="383.4" cy="1148.1" r="2.8" fill="#000"/>
<circle cx="389.4" cy="1164.1" r="2.8" fill="#000"/>
<circle cx="379.4" cy="1169.4" r="2.8" fill="#000"/>
<circle cx="393.4" cy="1186.0" r="2.8" fill="#000"/>
<circle cx="386.4" cy="1204.1" r="2.8" fill="#000"/>
<circle cx="381.4" cy="1245.3" r="2.8" fill="#000"/>
<line x1="386.4" y1="1144.9" x2="386.4" y2="1166.2" stroke="#000" stroke-width="2.6"/>
<line x1="374.4" y1="1144.9" x2="398.4" y2="1144.9" stroke="#000" stroke-width="2.6"/>
<line x1="374.4" y1="1166.2" x2="398.4" y2="1166.2" stroke="#000" stroke-width="2.6"/>
<rect x="418.2" y="1201.5" width="30.0" height="100.9" fill="none" stroke="#000" stroke-width="2.6"/>
<circle cx="433.2" cy="1136.3" r="2.8" fill="#000"/>
<circle cx="427.2" cy="1161.4" r="2.8" fill="#000"/>
<circle cx="439.2" cy="1180.6" r="2.8" fill="#000"/>
<circle cx="424.2" cy="1195.1" r="2.8" fill="#000"/>
<circle cx="442.2" cy="1198.3" r="2.8" fill="#000"/>
<circle cx="430.2" cy="1205.7" r="2.8" fill="#000"/>
<circle cx="436.2" cy="1214.8" r="2.8" fill="#000"/>
<circle cx="426.2" cy="1220.2" r="2.8" fill="#000"/>
<circle cx="440.2" cy="1227.1" r="2.8" fill="#000"/>
<circle cx="433.2" cy="1234.6" r="2.8" fill="#000"/>
<circle cx="428.2" cy="1239.9" r="2.8" fill="#000"/>
<line x1="433.2" y1="1193.5" x2="433.2" y2="1209.5" stroke="#000" stroke-width="2.6"/>
<line x1="421.2" y1="1193.5" x2="445.2" y2="1193.5" stroke="#000" stroke-width="2.6"/>
<line x1="421.2" y1="1209.5" x2="445.2" y2="1209.5" stroke="#000" stroke-width="2.6"/>
<rect x="495.4" y="1258.6" width="30.0" height="43.8" fill="none" stroke="#f00" stroke-width="2.6"/>
<rect x="507.6" y="1213.7" width="5.5" height="5.5" fill="#f00"/>
<rect x="501.6" y="1235.6" width="5.5" height="5.5" fill="#f00"/>
<rect x="513.6" y="1242.5" width="5.5" height="5.5" fill="#f00"/>
<rect x="498.6" y="1251.6" width="5.5" height="5.5" fill="#f00"/>
<rect x="516.6" y="1256.9" width="5.5" height="5.5" fill="#f00"/>
<rect x="504.6" y="1260.7" width="5.5" height="5.5" fill="#f00"/>
<rect x="510.6" y="1264.4" width="5.5" height="5.5" fill="#f00"/>
<rect x="500.6" y="1273.5" width="5.5" height="5.5" fill="#f00"/>
<rect x="514.6" y="1285.8" width="5.5" height="5.5" fill="#f00"/>
<rect x="507.6" y="1254.3" width="5.5" height="5.5" fill="#f00"/>
<rect x="502.6" y="1258.0" width="5.5" height="5.5" fill="#f00"/>
<line x1="510.4" y1="1253.3" x2="510.4" y2="1264.0" stroke="#f00" stroke-width="2.6"/>
<line x1="498.4" y1="1253.3" x2="522.4" y2="1253.3" stroke="#f00" stroke-width="2.6"/>
<line x1="498.4" y1="1264.0" x2="522.4" y2="1264.0" stroke="#f00" stroke-width="2.6"/>
<rect x="542.6" y="1283.7" width="30.0" height="18.7" fill="none" stroke="#f00" stroke-width="2.6"/>
<rect x="554.9" y="1264.4" width="5.5" height="5.5" fill="#f00"/>
<rect x="548.9" y="1268.1" width="5.5" height="5.5" fill="#f00"/>
<rect x="560.9" y="1273.5" width="5.5" height="5.5" fill="#f00"/>
<rect x="545.9" y="1276.7" width="5.5" height="5.5" fill="#f00"/>
<rect x="563.9" y="1282.6" width="5.5" height="5.5" fill="#f00"/>
<rect x="551.9" y="1287.9" width="5.5" height="5.5" fill="#f00"/>
<rect x="557.9" y="1291.1" width="5.5" height="5.5" fill="#f00"/>
<rect x="547.9" y="1299.7" width="5.5" height="5.5" fill="#f00"/>
<rect x="561.9" y="1275.6" width="5.5" height="5.5" fill="#f00"/>
<rect x="554.9" y="1279.4" width="5.5" height="5.5" fill="#f00"/>
<line x1="557.6" y1="1281.0" x2="557.6" y2="1286.4" stroke="#f00" stroke-width="2.6"/>
<line x1="545.6" y1="1281.0" x2="569.6" y2="1281.0" stroke="#f00" stroke-width="2.6"/>
<line x1="545.6" y1="1286.4" x2="569.6" y2="1286.4" stroke="#f00" stroke-width="2.6"/>
<rect x="590.0" y="1133.7" width="30.0" height="168.7" fill="none" stroke="#f00" stroke-width="2.6"/>
<rect x="602.2" y="1079.6" width="5.5" height="5.5" fill="#f00"/>
<rect x="596.2" y="1105.8" width="5.5" height="5.5" fill="#f00"/>
<rect x="608.2" y="1118.1" width="5.5" height="5.5" fill="#f00"/>
<rect x="593.2" y="1123.4" width="5.5" height="5.5" fill="#f00"/>
<rect x="611.2" y="1128.8" width="5.5" height="5.5" fill="#f00"/>
<rect x="599.2" y="1136.2" width="5.5" height="5.5" fill="#f00"/>
<rect x="605.2" y="1145.3" width="5.5" height="5.5" fill="#f00"/>
<rect x="595.2" y="1154.4" width="5.5" height="5.5" fill="#f00"/>
<rect x="609.2" y="1161.3" width="5.5" height="5.5" fill="#f00"/>
<rect x="602.2" y="1165.1" width="5.5" height="5.5" fill="#f00"/>
<rect x="597.2" y="1126.1" width="5.5" height="5.5" fill="#f00"/>
<rect x="607.2" y="1131.4" width="5.5" height="5.5" fill="#f00"/>
<line x1="605.0" y1="1127.2" x2="605.0" y2="1140.1" stroke="#f00" stroke-width="2.6"/>
<line x1="593.0" y1="1127.2" x2="617.0" y2="1127.2" stroke="#f00" stroke-width="2.6"/>
<line x1="593.0" y1="1140.1" x2="617.0" y2="1140.1" stroke="#f00" stroke-width="2.6"/>
<rect x="637.0" y="1215.4" width="30.0" height="87.0" fill="none" stroke="#f00" stroke-width="2.6"/>
<rect x="649.2" y="1181.1" width="5.5" height="5.5" fill="#f00"/>
<rect x="643.2" y="1192.3" width="5.5" height="5.5" fill="#f00"/>
<rect x="655.2" y="1195.5" width="5.5" height="5.5" fill="#f00"/>
<rect x="640.2" y="1199.3" width="5.5" height="5.5" fill="#f00"/>
<rect x="658.2" y="1204.6" width="5.5" height="5.5" fill="#f00"/>
<rect x="646.2" y="1212.1" width="5.5" height="5.5" fill="#f00"/>
<rect x="652.2" y="1221.2" width="5.5" height="5.5" fill="#f00"/>
<rect x="642.2" y="1231.8" width="5.5" height="5.5" fill="#f00"/>
<rect x="656.2" y="1242.5" width="5.5" height="5.5" fill="#f00"/>
<rect x="649.2" y="1203.5" width="5.5" height="5.5" fill="#f00"/>
<rect x="644.2" y="1216.9" width="5.5" height="5.5" fill="#f00"/>
<line x1="652.0" y1="1210.0" x2="652.0" y2="1220.7" stroke="#f00" stroke-width="2.6"/>
<line x1="640.0" y1="1210.0" x2="664.0" y2="1210.0" stroke="#f00" stroke-width="2.6"/>
<line x1="640.0" y1="1220.7" x2="664.0" y2="1220.7" stroke="#f00" stroke-width="2.6"/>
<polyline points="387.0,1097.0 387.0,1064.6 605.0,1064.6 605.0,1072.5" fill="none" stroke="#000" stroke-width="2.6" stroke-linejoin="miter"/>
<text transform="translate(501.5 1067.0) scale(1.060 1) scale(1 1.030)" font-size="36" text-anchor="middle" fill="#000">*</text>
<line x1="928.0" y1="1299.8" x2="928.0" y2="1029.0" stroke="#000" stroke-width="2.8"/>
<line x1="916.0" y1="1298.4" x2="928.0" y2="1298.4" stroke="#000" stroke-width="2.8"/>
<text transform="translate(912.0 1311.7) scale(1 1.030)" font-size="37" text-anchor="end" fill="#000">0</text>
<line x1="916.0" y1="1231.3" x2="928.0" y2="1231.3" stroke="#000" stroke-width="2.8"/>
<text transform="translate(912.0 1244.6) scale(1 1.030)" font-size="37" text-anchor="end" fill="#000">2</text>
<line x1="916.0" y1="1164.2" x2="928.0" y2="1164.2" stroke="#000" stroke-width="2.8"/>
<text transform="translate(912.0 1177.5) scale(1 1.030)" font-size="37" text-anchor="end" fill="#000">4</text>
<line x1="916.0" y1="1097.1" x2="928.0" y2="1097.1" stroke="#000" stroke-width="2.8"/>
<text transform="translate(912.0 1110.4) scale(1 1.030)" font-size="37" text-anchor="end" fill="#000">6</text>
<line x1="916.0" y1="1030.0" x2="928.0" y2="1030.0" stroke="#000" stroke-width="2.8"/>
<text transform="translate(912.0 1043.3) scale(1 1.030)" font-size="37" text-anchor="end" fill="#000">8</text>
<line x1="916.0" y1="1298.4" x2="1143.3" y2="1298.4" stroke="#000" stroke-width="2.8"/>
<line x1="980.3" y1="1298.4" x2="980.3" y2="1309.4" stroke="#000" stroke-width="2.8"/>
<line x1="1088.4" y1="1298.4" x2="1088.4" y2="1309.4" stroke="#000" stroke-width="2.8"/>
<rect x="950.8" y="1230.3" width="59.5" height="68.1" fill="none" stroke="#000" stroke-width="2.6"/>
<rect x="1059.0" y="1193.1" width="59.4" height="105.3" fill="none" stroke="#f00" stroke-width="2.6"/>
<rect x="964.7" y="1195.2" width="5.2" height="5.2" fill="#000"/>
<rect x="971.2" y="1195.2" width="5.2" height="5.2" fill="#000"/>
<rect x="977.7" y="1195.2" width="5.2" height="5.2" fill="#000"/>
<rect x="984.2" y="1195.2" width="5.2" height="5.2" fill="#000"/>
<rect x="990.7" y="1195.2" width="5.2" height="5.2" fill="#000"/>
<rect x="964.7" y="1228.7" width="5.2" height="5.2" fill="#000"/>
<rect x="971.2" y="1228.7" width="5.2" height="5.2" fill="#000"/>
<rect x="977.7" y="1228.7" width="5.2" height="5.2" fill="#000"/>
<rect x="984.2" y="1228.7" width="5.2" height="5.2" fill="#000"/>
<rect x="990.7" y="1228.7" width="5.2" height="5.2" fill="#000"/>
<rect x="971.7" y="1262.3" width="5.2" height="5.2" fill="#000"/>
<rect x="983.7" y="1262.3" width="5.2" height="5.2" fill="#000"/>
<rect x="977.7" y="1295.8" width="5.2" height="5.2" fill="#000"/>
<rect x="1085.8" y="1061.0" width="5.2" height="5.2" fill="#f00"/>
<rect x="1085.8" y="1128.1" width="5.2" height="5.2" fill="#f00"/>
<rect x="1080.3" y="1161.6" width="5.2" height="5.2" fill="#f00"/>
<rect x="1091.3" y="1161.6" width="5.2" height="5.2" fill="#f00"/>
<rect x="1080.3" y="1195.2" width="5.2" height="5.2" fill="#f00"/>
<rect x="1091.3" y="1195.2" width="5.2" height="5.2" fill="#f00"/>
<rect x="1068.8" y="1228.7" width="5.2" height="5.2" fill="#f00"/>
<rect x="1077.3" y="1228.7" width="5.2" height="5.2" fill="#f00"/>
<rect x="1085.8" y="1228.7" width="5.2" height="5.2" fill="#f00"/>
<rect x="1094.3" y="1228.7" width="5.2" height="5.2" fill="#f00"/>
<rect x="1102.8" y="1228.7" width="5.2" height="5.2" fill="#f00"/>
<rect x="1085.8" y="1262.3" width="5.2" height="5.2" fill="#f00"/>
<line x1="980.3" y1="1222.9" x2="980.3" y2="1238.7" stroke="#000" stroke-width="2.6"/>
<line x1="966.0" y1="1222.9" x2="995.0" y2="1222.9" stroke="#000" stroke-width="2.6"/>
<line x1="966.0" y1="1238.7" x2="995.0" y2="1238.7" stroke="#000" stroke-width="2.6"/>
<line x1="1088.4" y1="1174.3" x2="1088.4" y2="1209.5" stroke="#f00" stroke-width="2.6"/>
<line x1="1074.0" y1="1174.3" x2="1103.0" y2="1174.3" stroke="#f00" stroke-width="2.6"/>
<line x1="1074.0" y1="1209.5" x2="1103.0" y2="1209.5" stroke="#f00" stroke-width="2.6"/>
<polyline points="981.0,1174.5 981.0,1035.0 1089.0,1035.0 1089.0,1055.8" fill="none" stroke="#000" stroke-width="2.6" stroke-linejoin="miter"/>
<text transform="translate(1038.5 1037.0) scale(1 1.030)" font-size="36" text-anchor="middle" fill="#000">*</text>
<text transform="translate(981.0 1347.0) scale(1 1.030)" font-size="36" text-anchor="middle" fill="#000">WT</text>
<text transform="translate(1046.0 1347.0) scale(1 1.030)" font-size="36">cKI<tspan font-size="27" dy="-18" style="font-weight:normal">f/+</tspan></text>
<text transform="translate(832.0 1155.0) rotate(-90) scale(1 1.030)" font-size="36" text-anchor="middle" fill="#000">Number of across</text>
<text transform="translate(877.0 1156.0) rotate(-90) scale(1 1.030)" font-size="36" text-anchor="middle" fill="#000">platform zone</text>
<line x1="1441.4" y1="1303.6" x2="1441.4" y2="1033.5" stroke="#000" stroke-width="2.8"/>
<line x1="1429.4" y1="1302.2" x2="1441.4" y2="1302.2" stroke="#000" stroke-width="2.8"/>
<text transform="translate(1425.4 1315.5) scale(1 1.030)" font-size="37" text-anchor="end" fill="#000">0</text>
<line x1="1429.4" y1="1212.9" x2="1441.4" y2="1212.9" stroke="#000" stroke-width="2.8"/>
<text transform="translate(1425.4 1226.2) scale(1 1.030)" font-size="37" text-anchor="end" fill="#000">20</text>
<line x1="1429.4" y1="1123.6" x2="1441.4" y2="1123.6" stroke="#000" stroke-width="2.8"/>
<text transform="translate(1425.4 1136.9) scale(1 1.030)" font-size="37" text-anchor="end" fill="#000">40</text>
<line x1="1429.4" y1="1034.3" x2="1441.4" y2="1034.3" stroke="#000" stroke-width="2.8"/>
<text transform="translate(1425.4 1047.6) scale(1 1.030)" font-size="37" text-anchor="end" fill="#000">60</text>
<line x1="1428.9" y1="1302.2" x2="1654.0" y2="1302.2" stroke="#000" stroke-width="2.8"/>
<line x1="1493.4" y1="1302.2" x2="1493.4" y2="1313.2" stroke="#000" stroke-width="2.8"/>
<line x1="1600.4" y1="1302.2" x2="1600.4" y2="1313.2" stroke="#000" stroke-width="2.8"/>
<rect x="1464.4" y="1211.1" width="58.1" height="91.1" fill="none" stroke="#000" stroke-width="2.6"/>
<rect x="1571.3" y="1266.9" width="58.1" height="35.3" fill="none" stroke="#f00" stroke-width="2.6"/>
<circle cx="1493.4" cy="1052.2" r="2.9" fill="#000"/>
<circle cx="1493.4" cy="1074.5" r="2.9" fill="#000"/>
<circle cx="1493.4" cy="1123.6" r="2.9" fill="#000"/>
<circle cx="1493.4" cy="1157.1" r="2.9" fill="#000"/>
<circle cx="1493.4" cy="1188.3" r="2.9" fill="#000"/>
<circle cx="1493.4" cy="1208.4" r="2.9" fill="#000"/>
<circle cx="1493.4" cy="1230.8" r="2.9" fill="#000"/>
<circle cx="1493.4" cy="1246.4" r="2.9" fill="#000"/>
<circle cx="1488.4" cy="1265.1" r="2.9" fill="#000"/>
<circle cx="1498.4" cy="1263.8" r="2.9" fill="#000"/>
<circle cx="1493.4" cy="1273.2" r="2.9" fill="#000"/>
<circle cx="1488.4" cy="1279.9" r="2.9" fill="#000"/>
<circle cx="1498.4" cy="1279.9" r="2.9" fill="#000"/>
<circle cx="1493.4" cy="1293.3" r="2.9" fill="#000"/>
<rect x="1597.8" y="1172.3" width="5.2" height="5.2" fill="#f00"/>
<rect x="1597.8" y="1217.0" width="5.2" height="5.2" fill="#f00"/>
<rect x="1597.8" y="1263.9" width="5.2" height="5.2" fill="#f00"/>
<rect x="1592.8" y="1268.3" width="5.2" height="5.2" fill="#f00"/>
<rect x="1602.8" y="1268.3" width="5.2" height="5.2" fill="#f00"/>
<rect x="1597.8" y="1270.6" width="5.2" height="5.2" fill="#f00"/>
<rect x="1597.8" y="1277.3" width="5.2" height="5.2" fill="#f00"/>
<rect x="1591.8" y="1284.0" width="5.2" height="5.2" fill="#f00"/>
<rect x="1603.8" y="1284.0" width="5.2" height="5.2" fill="#f00"/>
<rect x="1603.3" y="1287.1" width="5.2" height="5.2" fill="#f00"/>
<rect x="1613.8" y="1287.1" width="5.2" height="5.2" fill="#f00"/>
<rect x="1581.8" y="1288.4" width="5.2" height="5.2" fill="#f00"/>
<line x1="1493.4" y1="1188.3" x2="1493.4" y2="1233.0" stroke="#000" stroke-width="2.6"/>
<line x1="1479.0" y1="1188.3" x2="1508.0" y2="1188.3" stroke="#000" stroke-width="2.6"/>
<line x1="1479.0" y1="1233.0" x2="1508.0" y2="1233.0" stroke="#000" stroke-width="2.6"/>
<line x1="1600.4" y1="1255.3" x2="1600.4" y2="1277.6" stroke="#f00" stroke-width="2.6"/>
<line x1="1586.0" y1="1255.3" x2="1615.0" y2="1255.3" stroke="#f00" stroke-width="2.6"/>
<line x1="1586.0" y1="1277.6" x2="1615.0" y2="1277.6" stroke="#f00" stroke-width="2.6"/>
<polyline points="1492.3,1044.4 1492.3,1033.4 1601.2,1033.4 1601.2,1157.8" fill="none" stroke="#000" stroke-width="2.6" stroke-linejoin="miter"/>
<text transform="translate(1543.5 1035.0) scale(1 1.030)" font-size="36" text-anchor="middle" fill="#000">*</text>
<text transform="translate(1493.4 1351.0) scale(1 1.030)" font-size="36" text-anchor="middle" fill="#000">WT</text>
<text transform="translate(1558.0 1351.0) scale(1 1.030)" font-size="36">cKI<tspan font-size="27" dy="-18" style="font-weight:normal">f/+</tspan></text>
<text transform="translate(1324.0 1158.0) rotate(-90) scale(1 1.030)" font-size="36" text-anchor="middle" fill="#000">Lantency to platform</text>
<text transform="translate(1367.0 1160.0) rotate(-90) scale(1 1.030)" font-size="36" text-anchor="middle" fill="#000">zone (s)</text>
<line x1="861.4" y1="1814.9" x2="861.4" y2="1545.0" stroke="#000" stroke-width="2.8"/>
<line x1="849.4" y1="1813.5" x2="861.4" y2="1813.5" stroke="#000" stroke-width="2.8"/>
<text transform="translate(846.4 1826.8) scale(1 1.030)" font-size="37" text-anchor="end" fill="#000">0</text>
<line x1="849.4" y1="1724.3" x2="861.4" y2="1724.3" stroke="#000" stroke-width="2.8"/>
<text transform="translate(846.4 1737.6) scale(1 1.030)" font-size="37" text-anchor="end" fill="#000">20</text>
<line x1="849.4" y1="1635.1" x2="861.4" y2="1635.1" stroke="#000" stroke-width="2.8"/>
<text transform="translate(846.4 1648.4) scale(1 1.030)" font-size="37" text-anchor="end" fill="#000">40</text>
<line x1="849.4" y1="1545.9" x2="861.4" y2="1545.9" stroke="#000" stroke-width="2.8"/>
<text transform="translate(846.4 1559.2) scale(1 1.030)" font-size="37" text-anchor="end" fill="#000">60</text>
<line x1="853.4" y1="1813.5" x2="1152.0" y2="1813.5" stroke="#000" stroke-width="2.8"/>
<line x1="933.4" y1="1813.5" x2="933.4" y2="1823.5" stroke="#000" stroke-width="2.8"/>
<line x1="1078.0" y1="1813.5" x2="1078.0" y2="1823.5" stroke="#000" stroke-width="2.8"/>
<rect x="890.2" y="1615.0" width="30.6" height="198.5" fill="none" stroke="#000" stroke-width="2.6"/>
<line x1="905.5" y1="1605.2" x2="905.5" y2="1624.8" stroke="#000" stroke-width="2.6"/>
<line x1="897.5" y1="1605.2" x2="913.5" y2="1605.2" stroke="#000" stroke-width="2.6"/>
<line x1="897.5" y1="1624.8" x2="913.5" y2="1624.8" stroke="#000" stroke-width="2.6"/>
<rect x="946.2" y="1578.5" width="30.9" height="235.0" fill="none" stroke="#f00" stroke-width="2.6"/>
<line x1="961.7" y1="1566.0" x2="961.7" y2="1590.9" stroke="#f00" stroke-width="2.6"/>
<line x1="953.7" y1="1566.0" x2="969.7" y2="1566.0" stroke="#f00" stroke-width="2.6"/>
<line x1="953.7" y1="1590.9" x2="969.7" y2="1590.9" stroke="#f00" stroke-width="2.6"/>
<rect x="1034.6" y="1616.4" width="31.4" height="197.1" fill="none" stroke="#000" stroke-width="2.6"/>
<line x1="1050.3" y1="1607.9" x2="1050.3" y2="1624.8" stroke="#000" stroke-width="2.6"/>
<line x1="1042.3" y1="1607.9" x2="1058.3" y2="1607.9" stroke="#000" stroke-width="2.6"/>
<line x1="1042.3" y1="1624.8" x2="1058.3" y2="1624.8" stroke="#000" stroke-width="2.6"/>
<rect x="1091.6" y="1600.3" width="30.6" height="213.2" fill="none" stroke="#f00" stroke-width="2.6"/>
<line x1="1106.9" y1="1588.7" x2="1106.9" y2="1611.9" stroke="#f00" stroke-width="2.6"/>
<line x1="1098.9" y1="1588.7" x2="1114.9" y2="1588.7" stroke="#f00" stroke-width="2.6"/>
<line x1="1098.9" y1="1611.9" x2="1114.9" y2="1611.9" stroke="#f00" stroke-width="2.6"/>
<polyline points="905.2,1582.8 905.2,1547.7 962.1,1547.7 962.1,1558.8" fill="none" stroke="#000" stroke-width="2.6" stroke-linejoin="miter"/>
<text transform="translate(933.5 1550.0) scale(1 1.030)" font-size="36" text-anchor="middle" fill="#000">*</text>
<rect x="885.7" y="1491.4" width="27.6" height="16.0" fill="none" stroke="#000" stroke-width="2.6"/>
<text transform="translate(930.0 1507.5) scale(1.040 1) scale(1 1.030)" font-size="27" text-anchor="start" fill="#000">WT</text>
<rect x="1000.2" y="1491.4" width="27.0" height="16.0" fill="none" stroke="#f00" stroke-width="2.6"/>
<text transform="translate(1046.0 1509.0) scale(1.040 1) scale(1 1.030)" font-size="27" text-anchor="start" fill="#000">cKI<tspan font-size="18.4" dy="-10.0">f/+</tspan></text>
<text transform="translate(794.0 1670.0) rotate(-90) scale(1 1.030)" font-size="36" text-anchor="middle" fill="#000">Correct choice(%)</text>
<text transform="translate(946.0 1852.0) rotate(-45) scale(1 1.030)" font-size="37" text-anchor="end" fill="#000">Seperation2</text>
<text transform="translate(1091.0 1852.0) rotate(-45) scale(1 1.030)" font-size="37" text-anchor="end" fill="#000">Seperation4</text>
<line x1="1321.5" y1="1818.1" x2="1321.5" y2="1547.5" stroke="#000" stroke-width="2.8"/>
<line x1="1309.5" y1="1816.7" x2="1321.5" y2="1816.7" stroke="#000" stroke-width="2.8"/>
<text transform="translate(1307.5 1830.0) scale(1 1.030)" font-size="37" text-anchor="end" fill="#000">0</text>
<line x1="1309.5" y1="1763.1" x2="1321.5" y2="1763.1" stroke="#000" stroke-width="2.8"/>
<text transform="translate(1307.5 1776.4) scale(1 1.030)" font-size="37" text-anchor="end" fill="#000">20</text>
<line x1="1309.5" y1="1709.5" x2="1321.5" y2="1709.5" stroke="#000" stroke-width="2.8"/>
<text transform="translate(1307.5 1722.8) scale(1 1.030)" font-size="37" text-anchor="end" fill="#000">40</text>
<line x1="1309.5" y1="1655.9" x2="1321.5" y2="1655.9" stroke="#000" stroke-width="2.8"/>
<text transform="translate(1307.5 1669.2) scale(1 1.030)" font-size="37" text-anchor="end" fill="#000">60</text>
<line x1="1309.5" y1="1602.3" x2="1321.5" y2="1602.3" stroke="#000" stroke-width="2.8"/>
<text transform="translate(1307.5 1615.6) scale(1 1.030)" font-size="37" text-anchor="end" fill="#000">80</text>
<line x1="1309.5" y1="1548.7" x2="1321.5" y2="1548.7" stroke="#000" stroke-width="2.8"/>
<text transform="translate(1307.5 1562.0) scale(1 1.030)" font-size="37" text-anchor="end" fill="#000">100</text>
<line x1="1310.5" y1="1816.7" x2="1725.0" y2="1816.7" stroke="#000" stroke-width="2.8"/>
<line x1="1354.2" y1="1816.7" x2="1354.2" y2="1827.7" stroke="#000" stroke-width="2.8"/>
<line x1="1421.4" y1="1816.7" x2="1421.4" y2="1827.7" stroke="#000" stroke-width="2.8"/>
<line x1="1488.6" y1="1816.7" x2="1488.6" y2="1827.7" stroke="#000" stroke-width="2.8"/>
<line x1="1555.8" y1="1816.7" x2="1555.8" y2="1827.7" stroke="#000" stroke-width="2.8"/>
<line x1="1623.0" y1="1816.7" x2="1623.0" y2="1827.7" stroke="#000" stroke-width="2.8"/>
<line x1="1690.2" y1="1816.7" x2="1690.2" y2="1827.7" stroke="#000" stroke-width="2.8"/>
<text transform="translate(1367.7 1859.0) rotate(-45) scale(1 1.030)" font-size="37" text-anchor="end" fill="#000">Day1</text>
<text transform="translate(1434.9 1859.0) rotate(-45) scale(1 1.030)" font-size="37" text-anchor="end" fill="#000">Day2</text>
<text transform="translate(1502.1 1859.0) rotate(-45) scale(1 1.030)" font-size="37" text-anchor="end" fill="#000">Day3</text>
<text transform="translate(1569.3 1859.0) rotate(-45) scale(1 1.030)" font-size="37" text-anchor="end" fill="#000">Day4</text>
<text transform="translate(1636.5 1859.0) rotate(-45) scale(1 1.030)" font-size="37" text-anchor="end" fill="#000">Day5</text>
<text transform="translate(1703.7 1859.0) rotate(-45) scale(1 1.030)" font-size="37" text-anchor="end" fill="#000">Day6</text>
<text transform="translate(1523.0 1492.5) scale(1 1.030)" font-size="36" text-anchor="middle" fill="#000">Seperation2</text>
<text transform="translate(1229.0 1672.0) rotate(-90) scale(1 1.030)" font-size="36" text-anchor="middle" fill="#000">Correct choice(%)</text>
<line x1="1524.5" y1="1565.3" x2="1552.6" y2="1565.3" stroke="#000" stroke-width="2.6"/>
<circle cx="1538.5" cy="1565.3" r="2.8" fill="#000"/>
<text transform="translate(1569.0 1577.0) scale(1.040 1) scale(1 1.030)" font-size="27" text-anchor="start" fill="#000">WT</text>
<line x1="1631.3" y1="1565.3" x2="1659.4" y2="1565.3" stroke="#f00" stroke-width="2.6"/>
<rect x="1642.5" y="1562.5" width="5.5" height="5.5" fill="#f00"/>
<text transform="translate(1677.0 1579.0) scale(1.040 1) scale(1 1.030)" font-size="27" text-anchor="start" fill="#000">cKI<tspan font-size="18.4" dy="-10.0">f/+</tspan></text>
<polyline points="1354.2,1695.3 1421.4,1691.0 1488.6,1630.7 1555.8,1666.1 1623.0,1681.1 1690.2,1674.7" fill="none" stroke="#f00" stroke-width="2.8" stroke-linejoin="miter" stroke-linejoin="round"/>
<line x1="1354.2" y1="1688.6" x2="1354.2" y2="1702.0" stroke="#f00" stroke-width="2.6"/>
<line x1="1348.2" y1="1688.6" x2="1360.2" y2="1688.6" stroke="#f00" stroke-width="2.6"/>
<line x1="1348.2" y1="1702.0" x2="1360.2" y2="1702.0" stroke="#f00" stroke-width="2.6"/>
<rect x="1351.5" y="1692.5" width="5.5" height="5.5" fill="#f00"/>
<line x1="1421.4" y1="1677.6" x2="1421.4" y2="1704.4" stroke="#f00" stroke-width="2.6"/>
<line x1="1415.4" y1="1677.6" x2="1427.4" y2="1677.6" stroke="#f00" stroke-width="2.6"/>
<line x1="1415.4" y1="1704.4" x2="1427.4" y2="1704.4" stroke="#f00" stroke-width="2.6"/>
<rect x="1418.7" y="1688.3" width="5.5" height="5.5" fill="#f00"/>
<line x1="1488.6" y1="1606.1" x2="1488.6" y2="1655.4" stroke="#f00" stroke-width="2.6"/>
<line x1="1482.6" y1="1606.1" x2="1494.6" y2="1606.1" stroke="#f00" stroke-width="2.6"/>
<line x1="1482.6" y1="1655.4" x2="1494.6" y2="1655.4" stroke="#f00" stroke-width="2.6"/>
<rect x="1485.9" y="1628.0" width="5.5" height="5.5" fill="#f00"/>
<line x1="1555.8" y1="1648.7" x2="1555.8" y2="1683.5" stroke="#f00" stroke-width="2.6"/>
<line x1="1549.8" y1="1648.7" x2="1561.8" y2="1648.7" stroke="#f00" stroke-width="2.6"/>
<line x1="1549.8" y1="1683.5" x2="1561.8" y2="1683.5" stroke="#f00" stroke-width="2.6"/>
<rect x="1553.1" y="1663.3" width="5.5" height="5.5" fill="#f00"/>
<line x1="1623.0" y1="1667.7" x2="1623.0" y2="1694.5" stroke="#f00" stroke-width="2.6"/>
<line x1="1617.0" y1="1667.7" x2="1629.0" y2="1667.7" stroke="#f00" stroke-width="2.6"/>
<line x1="1617.0" y1="1694.5" x2="1629.0" y2="1694.5" stroke="#f00" stroke-width="2.6"/>
<rect x="1620.2" y="1678.3" width="5.5" height="5.5" fill="#f00"/>
<line x1="1690.2" y1="1659.9" x2="1690.2" y2="1689.4" stroke="#f00" stroke-width="2.6"/>
<line x1="1684.2" y1="1659.9" x2="1696.2" y2="1659.9" stroke="#f00" stroke-width="2.6"/>
<line x1="1684.2" y1="1689.4" x2="1696.2" y2="1689.4" stroke="#f00" stroke-width="2.6"/>
<rect x="1687.5" y="1671.9" width="5.5" height="5.5" fill="#f00"/>
<polyline points="1354.2,1717.5 1421.4,1709.5 1488.6,1702.5 1555.8,1685.9 1623.0,1696.6 1690.2,1692.6" fill="none" stroke="#000" stroke-width="2.8" stroke-linejoin="miter" stroke-linejoin="round"/>
<line x1="1354.2" y1="1708.2" x2="1354.2" y2="1726.9" stroke="#000" stroke-width="2.6"/>
<line x1="1348.2" y1="1708.2" x2="1360.2" y2="1708.2" stroke="#000" stroke-width="2.6"/>
<line x1="1348.2" y1="1726.9" x2="1360.2" y2="1726.9" stroke="#000" stroke-width="2.6"/>
<circle cx="1354.2" cy="1717.5" r="2.8" fill="#000"/>
<line x1="1421.4" y1="1698.8" x2="1421.4" y2="1720.2" stroke="#000" stroke-width="2.6"/>
<line x1="1415.4" y1="1698.8" x2="1427.4" y2="1698.8" stroke="#000" stroke-width="2.6"/>
<line x1="1415.4" y1="1720.2" x2="1427.4" y2="1720.2" stroke="#000" stroke-width="2.6"/>
<circle cx="1421.4" cy="1709.5" r="2.8" fill="#000"/>
<line x1="1488.6" y1="1679.8" x2="1488.6" y2="1725.3" stroke="#000" stroke-width="2.6"/>
<line x1="1482.6" y1="1679.8" x2="1494.6" y2="1679.8" stroke="#000" stroke-width="2.6"/>
<line x1="1482.6" y1="1725.3" x2="1494.6" y2="1725.3" stroke="#000" stroke-width="2.6"/>
<circle cx="1488.6" cy="1702.5" r="2.8" fill="#000"/>
<line x1="1555.8" y1="1669.8" x2="1555.8" y2="1702.0" stroke="#000" stroke-width="2.6"/>
<line x1="1549.8" y1="1669.8" x2="1561.8" y2="1669.8" stroke="#000" stroke-width="2.6"/>
<line x1="1549.8" y1="1702.0" x2="1561.8" y2="1702.0" stroke="#000" stroke-width="2.6"/>
<circle cx="1555.8" cy="1685.9" r="2.8" fill="#000"/>
<line x1="1623.0" y1="1689.9" x2="1623.0" y2="1703.3" stroke="#000" stroke-width="2.6"/>
<line x1="1617.0" y1="1689.9" x2="1629.0" y2="1689.9" stroke="#000" stroke-width="2.6"/>
<line x1="1617.0" y1="1703.3" x2="1629.0" y2="1703.3" stroke="#000" stroke-width="2.6"/>
<circle cx="1623.0" cy="1696.6" r="2.8" fill="#000"/>
<line x1="1690.2" y1="1679.2" x2="1690.2" y2="1706.0" stroke="#000" stroke-width="2.6"/>
<line x1="1684.2" y1="1679.2" x2="1696.2" y2="1679.2" stroke="#000" stroke-width="2.6"/>
<line x1="1684.2" y1="1706.0" x2="1696.2" y2="1706.0" stroke="#000" stroke-width="2.6"/>
<circle cx="1690.2" cy="1692.6" r="2.8" fill="#000"/>
<text transform="translate(1490.0 1611.0) scale(1 1.030)" font-size="36" text-anchor="middle" fill="#000">*</text>
<defs>
<filter id="jetA" x="-15%" y="-15%" width="130%" height="130%" color-interpolation-filters="sRGB"><feGaussianBlur in="SourceAlpha" stdDeviation="3.2" result="b"/><feColorMatrix in="b" type="matrix" values="0 0 0 1 0  0 0 0 1 0  0 0 0 1 0  0 0 0 1 0" result="d"/><feComponentTransfer in="d"><feFuncR type="table" tableValues="0.000 0.000 0.000 0.000 0.000 0.000 0.000 0.000 0.000 0.000 0.000 0.000 0.000 0.000 0.000 0.000 0.000 0.000 0.000 0.000 0.000 0.000 0.000 0.000 0.000 0.000 0.000 0.000 0.000 0.040 0.081 0.121 0.161 0.202 0.242 0.282 0.323 0.363 0.403 0.444 0.484 0.524 0.565 0.605 0.645 0.685 0.726 0.766 0.806 0.847 0.887 0.927 0.968 1.000 1.000 1.000 1.000 1.000 1.000 1.000 1.000 1.000 1.000 1.000 1.000 1.000 1.000 1.000 1.000 1.000 1.000 1.000 0.955 0.898 0.841 0.784 0.727 0.670 0.614 0.557 0.500"/><feFuncG type="table" tableValues="0.000 0.000 0.000 0.000 0.000 0.000 0.000 0.000 0.000 0.000 0.000 0.000 0.043 0.096 0.149 0.202 0.255 0.309 0.362 0.415 0.468 0.521 0.574 0.628 0.681 0.734 0.787 0.840 0.894 0.947 1.000 1.000 1.000 1.000 1.000 1.000 1.000 1.000 1.000 1.000 1.000 1.000 1.000 1.000 1.000 1.000 1.000 1.000 1.000 1.000 1.000 1.000 0.963 0.917 0.870 0.824 0.778 0.731 0.685 0.639 0.593 0.546 0.500 0.454 0.407 0.361 0.315 0.269 0.222 0.176 0.130 0.083 0.037 0.000 0.000 0.000 0.000 0.000 0.000 0.000 0.000"/><feFuncB type="table" tableValues="0.420 0.440 0.460 0.480 0.500 0.583 0.667 0.750 0.833 0.917 1.000 1.000 1.000 1.000 1.000 1.000 1.000 1.000 1.000 1.000 1.000 1.000 1.000 1.000 1.000 1.000 1.000 1.000 0.968 0.927 0.887 0.847 0.806 0.766 0.726 0.685 0.645 0.605 0.565 0.524 0.484 0.444 0.403 0.363 0.323 0.282 0.242 0.202 0.161 0.121 0.081 0.040 0.000 0.000 0.000 0.000 0.000 0.000 0.000 0.000 0.000 0.000 0.000 0.000 0.000 0.000 0.000 0.000 0.000 0.000 0.000 0.000 0.000 0.000 0.000 0.000 0.000 0.000 0.000 0.000 0.000"/><feFuncA type="table" tableValues="0.000 0.216 0.376 0.520 0.654 0.782 0.905 1.000 1.000 1.000 1.000 1.000 1.000 1.000 1.000 1.000 1.000 1.000 1.000 1.000 1.000 1.000 1.000 1.000 1.000 1.000 1.000 1.000 1.000 1.000 1.000 1.000 1.000 1.000 1.000 1.000 1.000 1.000 1.000 1.000 1.000 1.000 1.000 1.000 1.000 1.000 1.000 1.000 1.000 1.000 1.000 1.000 1.000 1.000 1.000 1.000 1.000 1.000 1.000 1.000 1.000 1.000 1.000 1.000 1.000 1.000 1.000 1.000 1.000 1.000 1.000 1.000 1.000 1.000 1.000 1.000 1.000 1.000 1.000 1.000 1.000"/></feComponentTransfer></filter>
<filter id="jetD" x="-15%" y="-15%" width="130%" height="130%" color-interpolation-filters="sRGB"><feGaussianBlur in="SourceAlpha" stdDeviation="3.2" result="b"/><feColorMatrix in="b" type="matrix" values="0 0 0 1 0  0 0 0 1 0  0 0 0 1 0  0 0 0 1 0" result="d"/><feComponentTransfer in="d"><feFuncR type="table" tableValues="0.000 0.000 0.000 0.000 0.000 0.000 0.000 0.000 0.000 0.000 0.000 0.000 0.000 0.000 0.000 0.000 0.000 0.000 0.000 0.000 0.000 0.000 0.000 0.000 0.000 0.000 0.000 0.000 0.000 0.040 0.081 0.121 0.161 0.202 0.242 0.282 0.323 0.363 0.403 0.444 0.484 0.524 0.565 0.605 0.645 0.685 0.726 0.766 0.806 0.847 0.887 0.927 0.968 1.000 1.000 1.000 1.000 1.000 1.000 1.000 1.000 1.000 1.000 1.000 1.000 1.000 1.000 1.000 1.000 1.000 1.000 1.000 0.955 0.898 0.841 0.784 0.727 0.670 0.614 0.557 0.500"/><feFuncG type="table" tableValues="0.000 0.000 0.000 0.000 0.000 0.000 0.000 0.000 0.000 0.000 0.000 0.000 0.043 0.096 0.149 0.202 0.255 0.309 0.362 0.415 0.468 0.521 0.574 0.628 0.681 0.734 0.787 0.840 0.894 0.947 1.000 1.000 1.000 1.000 1.000 1.000 1.000 1.000 1.000 1.000 1.000 1.000 1.000 1.000 1.000 1.000 1.000 1.000 1.000 1.000 1.000 1.000 0.963 0.917 0.870 0.824 0.778 0.731 0.685 0.639 0.593 0.546 0.500 0.454 0.407 0.361 0.315 0.269 0.222 0.176 0.130 0.083 0.037 0.000 0.000 0.000 0.000 0.000 0.000 0.000 0.000"/><feFuncB type="table" tableValues="0.420 0.440 0.460 0.480 0.500 0.583 0.667 0.750 0.833 0.917 1.000 1.000 1.000 1.000 1.000 1.000 1.000 1.000 1.000 1.000 1.000 1.000 1.000 1.000 1.000 1.000 1.000 1.000 0.968 0.927 0.887 0.847 0.806 0.766 0.726 0.685 0.645 0.605 0.565 0.524 0.484 0.444 0.403 0.363 0.323 0.282 0.242 0.202 0.161 0.121 0.081 0.040 0.000 0.000 0.000 0.000 0.000 0.000 0.000 0.000 0.000 0.000 0.000 0.000 0.000 0.000 0.000 0.000 0.000 0.000 0.000 0.000 0.000 0.000 0.000 0.000 0.000 0.000 0.000 0.000 0.000"/><feFuncA type="table" tableValues="0.000 0.238 0.415 0.574 0.723 0.864 1.000 1.000 1.000 1.000 1.000 1.000 1.000 1.000 1.000 1.000 1.000 1.000 1.000 1.000 1.000 1.000 1.000 1.000 1.000 1.000 1.000 1.000 1.000 1.000 1.000 1.000 1.000 1.000 1.000 1.000 1.000 1.000 1.000 1.000 1.000 1.000 1.000 1.000 1.000 1.000 1.000 1.000 1.000 1.000 1.000 1.000 1.000 1.000 1.000 1.000 1.000 1.000 1.000 1.000 1.000 1.000 1.000 1.000 1.000 1.000 1.000 1.000 1.000 1.000 1.000 1.000 1.000 1.000 1.000 1.000 1.000 1.000 1.000 1.000 1.000"/></feComponentTransfer></filter>
<filter id="soft" x="-10%" y="-10%" width="120%" height="120%"><feGaussianBlur stdDeviation="2.5"/></filter>
</defs>
<polygon points="77.8,60.6 200.0,119.5 335.0,65.9 352.4,103.0 222.4,156.3 222.4,299.0 173.2,299.0 173.0,153.8 57.7,95.6" fill="none" stroke="#000" stroke-width="2.0" stroke-linejoin="miter"/>
<g filter="url(#jetA)">
<path d="M112,103 L199,144 M199,144 L240,126 L300,103 L324,93 M199,144 L200,172 L196,222 L193,279" fill="none" stroke="#fff" stroke-opacity="0.115" stroke-width="22" stroke-linecap="round" stroke-linejoin="round"/>
<ellipse cx="124.0" cy="106.0" rx="15" ry="8" fill="#fff" fill-opacity="0.379" transform="rotate(26 124.0 106.0)"/>
<ellipse cx="124.0" cy="106.0" rx="10.5" ry="5.6" fill="#fff" fill-opacity="0.418" transform="rotate(26 124.0 106.0)"/>
<ellipse cx="124.0" cy="106.0" rx="6.0" ry="3.2" fill="#fff" fill-opacity="0.688" transform="rotate(26 124.0 106.0)"/>
<ellipse cx="312.0" cy="96.0" rx="15" ry="8" fill="#fff" fill-opacity="0.345" transform="rotate(-22 312.0 96.0)"/>
<ellipse cx="312.0" cy="96.0" rx="8.25" ry="4.4" fill="#fff" fill-opacity="0.345" transform="rotate(-22 312.0 96.0)"/>
<ellipse cx="238.0" cy="128.0" rx="8" ry="5" fill="#fff" fill-opacity="0.299" transform="rotate(-22 238.0 128.0)"/>
<ellipse cx="200.0" cy="149.0" rx="16" ry="13" fill="#fff" fill-opacity="0.379" transform="rotate(0 200.0 149.0)"/>
<ellipse cx="200.0" cy="149.0" rx="11.2" ry="9.1" fill="#fff" fill-opacity="0.455" transform="rotate(0 200.0 149.0)"/>
<ellipse cx="200.0" cy="149.0" rx="7.2" ry="5.8500000000000005" fill="#fff" fill-opacity="0.833" transform="rotate(0 200.0 149.0)"/>
<ellipse cx="194.0" cy="250.0" rx="7" ry="20" fill="#fff" fill-opacity="0.345" transform="rotate(0 194.0 250.0)"/>
<ellipse cx="194.0" cy="250.0" rx="3.5" ry="10.0" fill="#fff" fill-opacity="0.224" transform="rotate(0 194.0 250.0)"/>
</g>
<text transform="translate(214.0 74.0) scale(1 1.030)" font-size="37" text-anchor="middle" fill="#000">WT</text>
<text transform="translate(52.5 85.0) scale(1 1.030)" font-size="37" text-anchor="middle" fill="#000">O</text>
<text transform="translate(369.5 95.0) scale(1 1.030)" font-size="37" text-anchor="middle" fill="#000">N</text>
<text transform="translate(204.0 336.0) scale(1 1.030)" font-size="37" text-anchor="middle" fill="#000">S</text>
<polygon points="429.8,68.0 552.2,126.5 686.8,72.8 705.0,110.3 575.1,163.2 575.1,306.6 525.2,306.6 526.4,160.9 410.3,102.5" fill="none" stroke="#000" stroke-width="2.0" stroke-linejoin="miter"/>
<g filter="url(#jetA)">
<path d="M462.0,107.0 C468.3,110.0 488.7,119.8 500.0,125.0 C511.3,130.2 521.5,132.7 530.0,138.0 C538.5,143.3 547.5,153.8 551.0,157.0 M551.0,157.0 C555.0,154.7 566.8,147.0 575.0,143.0 C583.2,139.0 589.2,137.2 600.0,133.0 C610.8,128.8 628.7,122.5 640.0,118.0 C651.3,113.5 660.3,109.0 668.0,106.0 C675.7,103.0 683.0,101.0 686.0,100.0 M551.0,157.0 C551.3,161.7 553.5,175.3 553.0,185.0 C552.5,194.7 548.7,205.8 548.0,215.0 C547.3,224.2 549.3,232.2 549.0,240.0 C548.7,247.8 546.3,254.0 546.0,262.0 C545.7,270.0 546.8,283.7 547.0,288.0" fill="none" stroke="#fff" stroke-opacity="0.115" stroke-width="22" stroke-linecap="round" stroke-linejoin="round"/>
<ellipse cx="547.0" cy="284.0" rx="13" ry="15" fill="#fff" fill-opacity="0.115" transform="rotate(0 547.0 284.0)"/>
<ellipse cx="462.0" cy="107.0" rx="9" ry="7" fill="#fff" fill-opacity="0.322" transform="rotate(25 462.0 107.0)"/>
<ellipse cx="531.0" cy="137.0" rx="8" ry="6" fill="#fff" fill-opacity="0.379" transform="rotate(0 531.0 137.0)"/>
<ellipse cx="531.0" cy="137.0" rx="4.8" ry="3.5999999999999996" fill="#fff" fill-opacity="0.309" transform="rotate(0 531.0 137.0)"/>
<ellipse cx="551.0" cy="157.0" rx="14" ry="15" fill="#fff" fill-opacity="0.379" transform="rotate(0 551.0 157.0)"/>
<ellipse cx="551.0" cy="157.0" rx="9.799999999999999" ry="10.5" fill="#fff" fill-opacity="0.418" transform="rotate(0 551.0 157.0)"/>
<ellipse cx="551.0" cy="157.0" rx="6.3" ry="6.75" fill="#fff" fill-opacity="0.781" transform="rotate(0 551.0 157.0)"/>
<ellipse cx="562.0" cy="150.0" rx="7" ry="5" fill="#fff" fill-opacity="0.548" transform="rotate(0 562.0 150.0)"/>
<ellipse cx="590.0" cy="135.0" rx="10" ry="6" fill="#fff" fill-opacity="0.322" transform="rotate(-20 590.0 135.0)"/>
<ellipse cx="670.0" cy="104.0" rx="11" ry="8" fill="#fff" fill-opacity="0.435" transform="rotate(-20 670.0 104.0)"/>
<ellipse cx="670.0" cy="104.0" rx="7.15" ry="5.2" fill="#fff" fill-opacity="0.4" transform="rotate(-20 670.0 104.0)"/>
<ellipse cx="670.0" cy="104.0" rx="4.4" ry="3.2" fill="#fff" fill-opacity="0.733" transform="rotate(-20 670.0 104.0)"/>
<ellipse cx="547.6" cy="243.0" rx="6" ry="8" fill="#fff" fill-opacity="0.322" transform="rotate(0 547.6 243.0)"/>
<ellipse cx="547.6" cy="286.0" rx="8" ry="10" fill="#fff" fill-opacity="0.345" transform="rotate(0 547.6 286.0)"/>
</g>
<text transform="translate(514.5 71.0) scale(1 1.030)" font-size="37" text-anchor="start" fill="#000">cKI<tspan font-size="25.2" dy="-15.5">f/+</tspan></text>
<text transform="translate(406.0 92.5) scale(1 1.030)" font-size="37" text-anchor="middle" fill="#000">O</text>
<text transform="translate(722.5 100.0) scale(1 1.030)" font-size="37" text-anchor="middle" fill="#000">N</text>
<text transform="translate(554.0 341.0) scale(1 1.030)" font-size="37" text-anchor="middle" fill="#000">S</text>
<ellipse cx="267" cy="726" rx="164" ry="156" fill="#fcf9ee" filter="url(#soft)"/>
<mask id="mw" maskUnits="userSpaceOnUse" x="0" y="0" width="1748" height="1999"><rect x="0" y="0" width="1748" height="1999" fill="#fff"/><ellipse cx="329.5" cy="790" rx="24" ry="6.5" transform="rotate(-12 329.5 790)" fill="#000"/><ellipse cx="318.5" cy="750" rx="7" ry="3" transform="rotate(-50 318.5 750)" fill="#000"/><ellipse cx="322" cy="691" rx="17" ry="11" fill="#000"/><ellipse cx="376" cy="703" rx="5" ry="15" fill="#000"/><ellipse cx="265" cy="835" rx="5" ry="2.5" fill="#000"/><ellipse cx="199" cy="812" rx="17" ry="12" fill="#000"/><ellipse cx="155" cy="724" rx="4" ry="8" fill="#000"/><ellipse cx="226" cy="718" rx="28" ry="22" fill="#000"/><ellipse cx="259" cy="608" rx="3.5" ry="4.5" fill="#000"/></mask>
<g filter="url(#jetD)"><g mask="url(#mw)">
<g opacity="0.14">
<path d="M277.0,590.0 C274.5,589.3 266.8,586.3 262.0,586.0 C257.2,585.7 251.8,586.0 248.0,588.0 C244.2,590.0 240.8,594.3 239.0,598.0 C237.2,601.7 236.5,606.0 237.0,610.0 C237.5,614.0 239.7,617.7 242.0,622.0 C244.3,626.3 248.2,631.8 251.0,636.0 C253.8,640.2 256.8,644.0 259.0,647.0 C261.2,650.0 263.2,652.8 264.0,654.0" fill="none" stroke="#fff" stroke-width="20" stroke-linecap="round" stroke-linejoin="round"/>
<path d="M266.0,660.0 C262.5,661.7 252.7,666.7 245.0,670.0 C237.3,673.3 227.5,677.5 220.0,680.0 C212.5,682.5 206.7,683.3 200.0,685.0 C193.3,686.7 186.7,688.2 180.0,690.0 C173.3,691.8 166.3,693.7 160.0,696.0 C153.7,698.3 147.3,701.0 142.0,704.0 C136.7,707.0 131.2,710.0 128.0,714.0 C124.8,718.0 123.8,725.7 123.0,728.0" fill="none" stroke="#fff" stroke-width="20" stroke-linecap="round" stroke-linejoin="round"/>
<path d="M123.0,728.0 C124.2,730.3 125.8,737.7 130.0,742.0 C134.2,746.3 141.0,750.2 148.0,754.0 C155.0,757.8 163.3,762.3 172.0,765.0 C180.7,767.7 190.0,769.5 200.0,770.0 C210.0,770.5 221.7,769.3 232.0,768.0 C242.3,766.7 257.0,763.0 262.0,762.0" fill="none" stroke="#fff" stroke-width="24" stroke-linecap="round" stroke-linejoin="round"/>
<path d="M185.0,686.0 C184.0,689.0 180.3,697.0 179.0,704.0 C177.7,711.0 176.5,720.7 177.0,728.0 C177.5,735.3 181.2,744.7 182.0,748.0" fill="none" stroke="#fff" stroke-width="20" stroke-linecap="round" stroke-linejoin="round"/>
<path d="M180.0,789.0 C177.0,790.5 166.0,793.2 162.0,798.0 C158.0,802.8 155.7,811.3 156.0,818.0 C156.3,824.7 159.3,833.0 164.0,838.0 C168.7,843.0 176.3,846.7 184.0,848.0 C191.7,849.3 202.0,847.7 210.0,846.0 C218.0,844.3 227.0,842.3 232.0,838.0 C237.0,833.7 240.0,826.3 240.0,820.0 C240.0,813.7 236.3,805.3 232.0,800.0 C227.7,794.7 221.0,790.3 214.0,788.0 C207.0,785.7 194.0,786.3 190.0,786.0" fill="none" stroke="#fff" stroke-width="20" stroke-linecap="round" stroke-linejoin="round"/>
<path d="M225.0,842.0 C227.8,843.8 236.5,849.7 242.0,853.0 C247.5,856.3 255.3,860.5 258.0,862.0" fill="none" stroke="#fff" stroke-width="20" stroke-linecap="round" stroke-linejoin="round"/>
<path d="M164.0,840.0 L158.0,850.0" fill="none" stroke="#fff" stroke-width="18" stroke-linecap="round" stroke-linejoin="round"/>
<path d="M236.0,782.0 C238.7,782.7 247.7,783.0 252.0,786.0 C256.3,789.0 261.0,794.0 262.0,800.0 C263.0,806.0 260.8,816.7 258.0,822.0 C255.2,827.3 247.2,830.3 245.0,832.0" fill="none" stroke="#fff" stroke-width="26" stroke-linecap="round" stroke-linejoin="round"/>
<path d="M274.0,598.0 C274.3,601.7 274.8,611.3 276.0,620.0 C277.2,628.7 279.8,640.0 281.0,650.0 C282.2,660.0 282.8,670.8 283.0,680.0 C283.2,689.2 283.2,697.5 282.0,705.0 C280.8,712.5 278.0,717.8 276.0,725.0 C274.0,732.2 271.3,739.7 270.0,748.0 C268.7,756.3 268.5,765.5 268.0,775.0 C267.5,784.5 267.3,795.0 267.0,805.0 C266.7,815.0 266.2,826.2 266.0,835.0 C265.8,843.8 266.0,854.2 266.0,858.0" fill="none" stroke="#fff" stroke-width="26" stroke-linecap="round" stroke-linejoin="round"/>
<path d="M303.8,596.0 C306.2,597.6 313.5,603.0 318.4,605.9 C323.3,608.8 328.1,610.7 333.0,613.6 C337.9,616.5 343.4,620.2 347.5,623.4 C351.6,626.6 353.2,629.4 357.3,633.0 C361.4,636.6 366.2,640.7 371.9,644.8 C377.6,648.9 385.6,652.9 391.3,657.4 C397.0,661.9 403.0,667.1 405.9,672.0 C408.8,676.9 409.1,681.7 408.8,686.6 C408.5,691.5 404.6,696.3 404.0,701.2 C403.4,706.1 405.2,710.7 405.0,715.8 C404.8,720.9 403.7,728.1 403.0,732.0 C402.3,735.9 401.3,737.8 401.0,739.0" fill="none" stroke="#fff" stroke-width="20" stroke-linecap="round" stroke-linejoin="round"/>
<path d="M285.0,648.0 C290.8,648.7 309.2,650.5 320.0,652.0 C330.8,653.5 340.8,655.2 350.0,657.0 C359.2,658.8 367.5,659.5 375.0,663.0 C382.5,666.5 391.7,675.5 395.0,678.0" fill="none" stroke="#fff" stroke-width="36" stroke-linecap="round" stroke-linejoin="round"/>
<path d="M355.0,668.0 C355.2,671.7 356.0,682.7 356.0,690.0 C356.0,697.3 355.3,705.3 355.0,712.0 C354.7,718.7 354.2,727.0 354.0,730.0" fill="none" stroke="#fff" stroke-width="20" stroke-linecap="round" stroke-linejoin="round"/>
<path d="M292.0,712.0 C296.3,712.5 309.2,715.0 318.0,715.0 C326.8,715.0 340.5,712.5 345.0,712.0" fill="none" stroke="#fff" stroke-width="18" stroke-linecap="round" stroke-linejoin="round"/>
<path d="M268.0,720.0 L300.0,718.0 L340.0,722.0 L370.0,726.0 L374.0,744.0 L377.0,762.0 L392.0,762.0 L404.0,769.0 L402.0,779.0 L386.0,792.0 L367.0,806.0 L347.0,816.0 L349.0,830.0 L342.0,838.0 L328.0,835.0 L305.0,828.0 L297.0,840.0 L284.0,853.0 L270.0,858.0 L268.0,800.0 Z" fill="#fff"/>
</g>
</g>
<ellipse cx="345.6" cy="738.5" rx="9" ry="11" fill="#fff" fill-opacity="0.36" transform="rotate(15 345.6 738.5)"/>
<ellipse cx="345.6" cy="738.5" rx="6.75" ry="8.25" fill="#fff" fill-opacity="0.418" transform="rotate(15 345.6 738.5)"/>
<ellipse cx="345.6" cy="738.5" rx="4.5" ry="5.5" fill="#fff" fill-opacity="0.688" transform="rotate(15 345.6 738.5)"/>
<ellipse cx="345.6" cy="738.5" rx="2.6999999999999997" ry="3.3" fill="#fff" fill-opacity="0.7" transform="rotate(15 345.6 738.5)"/>
<ellipse cx="330.0" cy="764.0" rx="14" ry="8" fill="#fff" fill-opacity="0.36" transform="rotate(-35 330.0 764.0)"/>
<ellipse cx="330.0" cy="764.0" rx="8.4" ry="4.8" fill="#fff" fill-opacity="0.364" transform="rotate(-35 330.0 764.0)"/>
<ellipse cx="290.0" cy="748.0" rx="30" ry="7" fill="#fff" fill-opacity="0.302" transform="rotate(-28 290.0 748.0)"/>
<ellipse cx="313.0" cy="719.0" rx="10" ry="7" fill="#fff" fill-opacity="0.326" transform="rotate(0 313.0 719.0)"/>
<ellipse cx="313.0" cy="719.0" rx="5.0" ry="3.5" fill="#fff" fill-opacity="0.31" transform="rotate(0 313.0 719.0)"/>
<ellipse cx="286.3" cy="648.7" rx="7" ry="7" fill="#fff" fill-opacity="0.36" transform="rotate(0 286.3 648.7)"/>
<ellipse cx="286.3" cy="648.7" rx="3.8500000000000005" ry="3.8500000000000005" fill="#fff" fill-opacity="0.309" transform="rotate(0 286.3 648.7)"/>
<ellipse cx="352.0" cy="661.0" rx="24" ry="7" fill="#fff" fill-opacity="0.302" transform="rotate(15 352.0 661.0)"/>
<ellipse cx="398.0" cy="688.0" rx="6" ry="10" fill="#fff" fill-opacity="0.302" transform="rotate(0 398.0 688.0)"/>
<ellipse cx="292.0" cy="810.0" rx="7" ry="6" fill="#fff" fill-opacity="0.279" transform="rotate(0 292.0 810.0)"/>
<ellipse cx="222.0" cy="790.0" rx="8" ry="7" fill="#fff" fill-opacity="0.326" transform="rotate(0 222.0 790.0)"/>
<ellipse cx="222.0" cy="790.0" rx="4.0" ry="3.5" fill="#fff" fill-opacity="0.224" transform="rotate(0 222.0 790.0)"/>
<ellipse cx="244.0" cy="790.0" rx="8" ry="7" fill="#fff" fill-opacity="0.36" transform="rotate(0 244.0 790.0)"/>
<ellipse cx="244.0" cy="790.0" rx="4.0" ry="3.5" fill="#fff" fill-opacity="0.309" transform="rotate(0 244.0 790.0)"/>
<ellipse cx="254.0" cy="762.0" rx="10" ry="6" fill="#fff" fill-opacity="0.326" transform="rotate(0 254.0 762.0)"/>
<ellipse cx="132.0" cy="718.0" rx="6" ry="6" fill="#fff" fill-opacity="0.244" transform="rotate(0 132.0 718.0)"/>
<ellipse cx="176.0" cy="757.0" rx="8" ry="5" fill="#fff" fill-opacity="0.186" transform="rotate(30 176.0 757.0)"/>
<ellipse cx="240.0" cy="833.0" rx="5" ry="5" fill="#fff" fill-opacity="0.186" transform="rotate(0 240.0 833.0)"/>
</g>
<ellipse cx="265" cy="724" rx="160" ry="152" fill="none" stroke="#f00" stroke-width="2.6"/>
<line x1="105.5" y1="724.2" x2="423.0" y2="724.2" stroke="#f00" stroke-width="2.4"/>
<line x1="265.0" y1="571.5" x2="265.0" y2="876.0" stroke="#f00" stroke-width="2.4"/>
<ellipse cx="317.4" cy="769.5" rx="11.5" ry="11" fill="none" stroke="#000" stroke-width="2"/>
<path d="M142.7,647.3 L175.0,647.9" stroke="#000" stroke-width="2.8" stroke-linecap="round"/>
<path d="M172.6,647.8 C173.2,646.8 174.3,643.3 176.2,641.6 C178.1,639.9 181.3,638.3 183.9,637.5 C186.5,636.7 189.2,637.4 191.6,637.0 C194.0,636.6 196.5,635.6 198.3,635.4 C200.1,635.2 201.7,635.1 202.5,636.0 C203.3,636.9 201.8,638.6 203.0,640.6 C204.2,642.6 207.8,646.1 209.7,648.3 C211.6,650.4 213.7,652.2 214.3,653.5 C214.9,654.8 214.5,655.7 213.3,656.0 C212.1,656.3 209.4,655.1 207.1,655.5 C204.8,655.9 202.0,657.2 199.4,658.1 C196.8,659.0 194.6,660.6 191.6,660.7 C188.6,660.8 184.0,659.9 181.3,658.6 C178.6,657.3 176.6,654.6 175.2,653.0 C173.8,651.4 173.0,649.5 172.6,648.8 Z" fill="#000"/>
<text transform="translate(266.5 505.0) scale(1 1.030)" font-size="35" text-anchor="middle" fill="#000">WT</text>
<text transform="translate(267.0 559.5) scale(1 1.030)" font-size="35" text-anchor="middle" fill="#000">N</text>
<text transform="translate(67.0 738.5) scale(1 1.030)" font-size="35" text-anchor="middle" fill="#000">E</text>
<text transform="translate(465.5 740.0) scale(1 1.030)" font-size="35" text-anchor="middle" fill="#000">W</text>
<text transform="translate(269.0 932.0) scale(1 1.030)" font-size="35" text-anchor="middle" fill="#000">S</text>
<ellipse cx="715" cy="729" rx="164" ry="156" fill="#fcf9ee" filter="url(#soft)"/>
<mask id="mk" maskUnits="userSpaceOnUse" x="0" y="0" width="1748" height="1999"><rect x="0" y="0" width="1748" height="1999" fill="#fff"/><path d="M622.6,682.2 C626.3,676.8 636.3,658.9 645.2,650.1 C654.2,641.3 668.7,629.3 676.4,629.3 C684.1,629.3 687.7,641.9 691.5,650.1 C695.3,658.2 702.8,669.3 699.0,678.4 C695.3,687.5 678.9,696.6 668.8,704.8 C658.8,713.0 646.0,726.5 638.6,727.5 C631.2,728.4 627.1,718.0 624.5,710.5 C621.8,702.9 622.9,686.9 622.6,682.2 Z" fill="#000"/><path d="M712.2,733.1 C714.1,732.8 722.2,725.9 723.6,731.2 C725.0,736.6 722.5,759.2 720.7,765.2 C719.0,771.2 714.6,772.5 713.2,767.1 C711.8,761.8 712.4,738.8 712.2,733.1 Z" fill="#000"/><ellipse cx="730.2" cy="648.2" rx="23.6" ry="13.6" transform="rotate(-22 730.2 648.2)" fill="#666"/><ellipse cx="730.2" cy="648.2" rx="17.9" ry="7.9" transform="rotate(-22 730.2 648.2)" fill="#000"/><ellipse cx="756.6" cy="691.6" rx="13.4" ry="20.6" transform="rotate(18 756.6 691.6)" fill="#666"/><ellipse cx="756.6" cy="691.6" rx="4.9" ry="12.1" transform="rotate(18 756.6 691.6)" fill="#000"/><ellipse cx="778.7" cy="734.1" rx="13.4" ry="19.8" transform="rotate(25 778.7 734.1)" fill="#666"/><ellipse cx="778.7" cy="734.1" rx="4.9" ry="11.3" transform="rotate(25 778.7 734.1)" fill="#000"/><ellipse cx="681.1" cy="769.9" rx="9.8" ry="13.2" transform="rotate(35 681.1 769.9)" fill="#666"/><ellipse cx="681.1" cy="769.9" rx="4.2" ry="7.6" transform="rotate(35 681.1 769.9)" fill="#000"/><ellipse cx="701.3" cy="814.3" rx="9.4" ry="12.3" transform="rotate(30 701.3 814.3)" fill="#666"/><ellipse cx="701.3" cy="814.3" rx="3.8" ry="6.6" transform="rotate(30 701.3 814.3)" fill="#000"/><ellipse cx="784.0" cy="689.7" rx="8.7" ry="8.7" transform="rotate(0 784.0 689.7)" fill="#666"/><ellipse cx="784.0" cy="689.7" rx="0.2" ry="0.2" transform="rotate(0 784.0 689.7)" fill="#000"/><ellipse cx="729.2" cy="810.5" rx="7.7" ry="7.7" transform="rotate(0 729.2 810.5)" fill="#666"/><ellipse cx="729.2" cy="810.5" rx="0.2" ry="0.2" transform="rotate(0 729.2 810.5)" fill="#000"/><ellipse cx="748.1" cy="793.5" rx="6.8" ry="6.8" transform="rotate(0 748.1 793.5)" fill="#666"/><ellipse cx="748.1" cy="793.5" rx="0.2" ry="0.2" transform="rotate(0 748.1 793.5)" fill="#000"/><ellipse cx="665.0" cy="831.3" rx="9.6" ry="9.6" transform="rotate(0 665.0 831.3)" fill="#666"/><ellipse cx="665.0" cy="831.3" rx="0.2" ry="0.2" transform="rotate(0 665.0 831.3)" fill="#000"/></mask>
<g filter="url(#jetD)"><g mask="url(#mk)">
<path d="M597.1,672.7 C598.7,668.0 600.5,653.4 606.5,644.4 C612.5,635.4 622.3,626.0 633.0,618.9 C643.7,611.8 657.5,606.3 670.7,601.9 C683.9,597.5 699.7,594.1 712.2,592.5 C724.8,590.9 735.8,591.2 746.2,592.5 C756.6,593.7 766.2,595.8 774.5,600.0 C782.9,604.3 788.7,610.3 796.3,618.0 C803.8,625.7 812.5,637.2 819.9,646.3 C827.2,655.4 834.8,666.3 840.6,672.7 C846.4,679.2 851.8,680.0 854.8,685.0 C857.8,690.0 859.0,696.2 858.6,702.9 C858.1,709.7 853.2,716.8 851.9,725.6 C850.7,734.4 852.9,747.8 851.0,755.8 C849.1,763.8 845.7,767.7 840.6,773.7 C835.6,779.7 828.7,784.7 820.8,791.7 C812.9,798.6 802.7,808.0 793.4,815.3 C784.1,822.5 774.5,829.6 765.1,835.1 C755.7,840.6 745.6,844.4 736.8,848.3 C728.0,852.2 719.8,855.2 712.2,858.7 C704.7,862.1 699.7,867.3 691.5,869.1 C683.3,870.8 671.5,870.8 663.2,869.1 C654.8,867.3 646.3,864.3 641.4,858.7 C636.6,853.0 634.7,844.4 633.9,835.1 C633.1,825.8 637.5,813.1 636.7,803.0 C635.9,792.9 633.3,783.2 629.2,774.7 C625.1,766.2 617.1,759.9 612.2,752.0 C607.3,744.1 602.6,736.3 599.9,727.5 C597.2,718.7 596.6,708.3 596.1,699.2 C595.7,690.0 596.9,677.1 597.1,672.7 Z" fill="#fff" fill-opacity="0.14"/>
<path d="M610.3,718.0 C609.5,713.0 605.3,697.9 605.6,687.8 C605.9,677.8 607.6,666.1 612.2,657.6 C616.7,649.1 624.8,642.5 633.0,636.9 C641.1,631.2 652.1,626.2 661.3,623.6 C670.4,621.1 680.8,620.8 687.7,621.7 C694.6,622.7 699.5,624.3 702.8,629.3 C706.1,634.3 706.6,644.7 707.5,652.0 C708.5,659.2 709.3,664.9 708.5,672.7 C707.7,680.6 705.6,692.2 702.8,699.2 C700.0,706.1 695.3,708.6 691.5,714.3 C687.7,719.9 683.9,726.8 680.2,733.1 C676.4,739.4 672.0,747.6 668.8,752.0 C665.7,756.4 662.5,758.3 661.3,759.6" fill="none" stroke="#fff" stroke-opacity="0.28" stroke-width="10" stroke-linecap="round" stroke-linejoin="round"/>
<path d="M714.1,610.4 C719.2,610.1 734.9,607.6 744.3,608.5 C753.8,609.5 763.2,612.3 770.8,616.1 C778.3,619.9 783.0,624.9 789.6,631.2 C796.3,637.5 803.8,646.0 810.4,653.8 C817.0,661.7 824.3,672.1 829.3,678.4 C834.3,684.7 838.7,686.2 840.6,691.6 C842.5,696.9 841.6,704.2 840.6,710.5 C839.7,716.8 835.9,722.1 835.0,729.4 C834.0,736.6 836.5,747.6 835.0,753.9 C833.4,760.2 829.9,762.4 825.5,767.1 C821.1,771.8 815.1,776.2 808.5,782.2 C801.9,788.2 793.7,797.0 785.9,803.0 C778.0,809.0 769.8,813.7 761.3,818.1 C752.8,822.5 742.4,826.6 734.9,829.4 C727.3,832.2 719.2,847.3 716.0,835.1 C712.9,822.8 715.5,778.4 716.0,755.8 C716.5,733.1 719.0,714.9 718.9,699.2 C718.7,683.4 715.9,676.2 715.1,661.4 C714.3,646.6 714.3,618.9 714.1,610.4 Z" fill="#fff" fill-opacity="0.25"/>
<path d="M642.4,755.8 C646.2,755.2 656.9,750.1 665.0,752.0 C673.2,753.9 683.9,763.3 691.5,767.1 C699.0,770.9 706.9,761.4 710.4,774.7 C713.8,787.9 715.4,833.2 712.2,846.4 C709.1,859.6 699.3,852.7 691.5,854.0 C683.6,855.2 672.6,855.5 665.0,854.0 C657.5,852.4 649.9,848.9 646.2,844.5 C642.4,840.1 642.7,834.4 642.4,827.5 C642.1,820.6 644.6,811.2 644.3,803.0 C644.0,794.8 640.8,786.3 640.5,778.4 C640.2,770.6 642.1,759.6 642.4,755.8 Z" fill="#fff" fill-opacity="0.26"/>
</g>
<path d="M744.3,667.1 C747.8,664.4 757.9,654.6 765.1,651.0 C772.3,647.4 781.8,645.5 787.8,645.3 C793.7,645.2 796.9,646.8 801.0,650.1 C805.1,653.4 808.8,659.8 812.3,665.2 C815.8,670.5 819.2,676.5 821.7,682.2 C824.3,687.8 826.5,696.3 827.4,699.2" fill="none" stroke="#fff" stroke-opacity="0.6" stroke-width="9" stroke-linecap="round" stroke-linejoin="round"/>
<path d="M810.4,710.5 C810.6,713.9 812.1,724.3 811.4,731.2 C810.6,738.2 807.7,745.4 805.7,752.0 C803.6,758.6 801.8,764.6 799.1,770.9 C796.4,777.2 793.7,784.4 789.6,789.8 C785.6,795.1 780.2,799.2 774.5,803.0 C768.9,806.8 762.0,809.4 755.7,812.4 C749.4,815.4 742.8,818.7 736.8,820.9 C730.8,823.1 722.6,824.9 719.8,825.6" fill="none" stroke="#fff" stroke-opacity="0.62" stroke-width="9" stroke-linecap="round" stroke-linejoin="round"/>
<path d="M736.8,755.8 C736.2,758.9 734.3,768.4 733.0,774.7 C731.8,781.0 728.9,787.9 729.2,793.5 C729.5,799.2 734.0,806.1 734.9,808.6" fill="none" stroke="#fff" stroke-opacity="0.5" stroke-width="8" stroke-linecap="round" stroke-linejoin="round"/>
<ellipse cx="755.7" cy="618.0" rx="11.327166320558808" ry="10.383235793845573" fill="#fff" fill-opacity="0.38" transform="rotate(0 755.7 618.0)"/>
<ellipse cx="755.7" cy="618.0" rx="7.362658108363226" ry="6.749103265999623" fill="#fff" fill-opacity="0.625" transform="rotate(0 755.7 618.0)"/>
<ellipse cx="755.7" cy="618.0" rx="4.530866528223523" ry="4.153294317538229" fill="#fff" fill-opacity="0.733" transform="rotate(0 755.7 618.0)"/>
<ellipse cx="844.4" cy="697.3" rx="11.327166320558808" ry="8.495374740419106" fill="#fff" fill-opacity="0.457" transform="rotate(-30 844.4 697.3)"/>
<ellipse cx="844.4" cy="697.3" rx="6.796299792335285" ry="5.097224844251463" fill="#fff" fill-opacity="0.714" transform="rotate(-30 844.4 697.3)"/>
<ellipse cx="810.4" cy="731.2" rx="7.551444213705872" ry="15.102888427411743" fill="#fff" fill-opacity="0.535" transform="rotate(10 810.4 731.2)"/>
<ellipse cx="810.4" cy="731.2" rx="4.530866528223523" ry="9.061733056447046" fill="#fff" fill-opacity="0.733" transform="rotate(10 810.4 731.2)"/>
<ellipse cx="789.6" cy="789.8" rx="11.327166320558808" ry="8.495374740419106" fill="#fff" fill-opacity="0.612" transform="rotate(0 789.6 789.8)"/>
<ellipse cx="789.6" cy="789.8" rx="6.796299792335285" ry="5.097224844251463" fill="#fff" fill-opacity="0.8" transform="rotate(0 789.6 789.8)"/>
<ellipse cx="750.0" cy="816.2" rx="13.215027373985276" ry="7.551444213705872" fill="#fff" fill-opacity="0.612" transform="rotate(-20 750.0 816.2)"/>
<ellipse cx="750.0" cy="816.2" rx="7.929016424391165" ry="4.530866528223523" fill="#fff" fill-opacity="0.72" transform="rotate(-20 750.0 816.2)"/>
<ellipse cx="742.4" cy="769.0" rx="7.551444213705872" ry="9.43930526713234" fill="#fff" fill-opacity="0.535" transform="rotate(0 742.4 769.0)"/>
<ellipse cx="742.4" cy="769.0" rx="4.530866528223523" ry="5.663583160279404" fill="#fff" fill-opacity="0.667" transform="rotate(0 742.4 769.0)"/>
<ellipse cx="768.9" cy="772.8" rx="6.607513686992638" ry="6.607513686992638" fill="#fff" fill-opacity="0.457" transform="rotate(0 768.9 772.8)"/>
<ellipse cx="791.5" cy="652.0" rx="15.102888427411743" ry="7.551444213705872" fill="#fff" fill-opacity="0.535" transform="rotate(10 791.5 652.0)"/>
<ellipse cx="791.5" cy="652.0" rx="9.061733056447046" ry="4.530866528223523" fill="#fff" fill-opacity="0.667" transform="rotate(10 791.5 652.0)"/>
<ellipse cx="772.7" cy="650.1" rx="7.551444213705872" ry="5.663583160279404" fill="#fff" fill-opacity="0.612" transform="rotate(0 772.7 650.1)"/>
<ellipse cx="723.6" cy="827.5" rx="9.43930526713234" ry="5.663583160279404" fill="#fff" fill-opacity="0.535" transform="rotate(0 723.6 827.5)"/>
<ellipse cx="661.3" cy="810.5" rx="7.551444213705872" ry="8.495374740419106" fill="#fff" fill-opacity="0.457" transform="rotate(0 661.3 810.5)"/>
<ellipse cx="661.3" cy="810.5" rx="4.530866528223523" ry="5.097224844251463" fill="#fff" fill-opacity="0.657" transform="rotate(0 661.3 810.5)"/>
<ellipse cx="651.8" cy="780.3" rx="5.663583160279404" ry="7.551444213705872" fill="#fff" fill-opacity="0.38" transform="rotate(0 651.8 780.3)"/>
<ellipse cx="693.4" cy="791.7" rx="7.551444213705872" ry="5.663583160279404" fill="#fff" fill-opacity="0.411" transform="rotate(-30 693.4 791.7)"/>
<ellipse cx="827.4" cy="746.3" rx="11.327166320558808" ry="15.102888427411743" fill="#fff" fill-opacity="0.225" transform="rotate(0 827.4 746.3)"/>
<ellipse cx="799.1" cy="684.0" rx="9.43930526713234" ry="11.327166320558808" fill="#fff" fill-opacity="0.302" transform="rotate(0 799.1 684.0)"/>
<ellipse cx="748.1" cy="672.7" rx="9.43930526713234" ry="7.551444213705872" fill="#fff" fill-opacity="0.302" transform="rotate(0 748.1 672.7)"/>
<ellipse cx="727.3" cy="684.0" rx="11.327166320558808" ry="13.215027373985276" fill="#fff" fill-opacity="0.302" transform="rotate(0 727.3 684.0)"/>
<ellipse cx="808.5" cy="668.9" rx="13.215027373985276" ry="9.43930526713234" fill="#fff" fill-opacity="0.349" transform="rotate(0 808.5 668.9)"/>
<ellipse cx="821.7" cy="767.1" rx="11.327166320558808" ry="9.43930526713234" fill="#fff" fill-opacity="0.302" transform="rotate(0 821.7 767.1)"/>
<ellipse cx="736.8" cy="797.3" rx="7.551444213705872" ry="7.551444213705872" fill="#fff" fill-opacity="0.302" transform="rotate(0 736.8 797.3)"/>
<ellipse cx="774.5" cy="755.8" rx="9.43930526713234" ry="7.551444213705872" fill="#fff" fill-opacity="0.225" transform="rotate(0 774.5 755.8)"/>
</g>
<ellipse cx="713" cy="727" rx="160" ry="152" fill="none" stroke="#f00" stroke-width="2.6"/>
<line x1="552.0" y1="727.0" x2="872.0" y2="727.0" stroke="#f00" stroke-width="2.4"/>
<line x1="713.0" y1="575.5" x2="713.0" y2="879.5" stroke="#f00" stroke-width="2.4"/>
<ellipse cx="764.5" cy="772.9" rx="10.8" ry="10.5" fill="none" stroke="#000" stroke-width="2"/>
<path d="M596.7,658.1 L629.0,658.7" stroke="#000" stroke-width="2.8" stroke-linecap="round"/>
<path d="M626.6,658.6 C627.2,657.6 628.3,654.1 630.2,652.4 C632.1,650.7 635.3,649.1 637.9,648.3 C640.5,647.5 643.2,648.1 645.6,647.8 C648.0,647.4 650.5,646.4 652.3,646.2 C654.1,646.0 655.7,645.9 656.5,646.8 C657.3,647.7 655.8,649.4 657.0,651.4 C658.2,653.4 661.8,656.9 663.7,659.1 C665.6,661.2 667.7,663.0 668.3,664.3 C668.9,665.6 668.5,666.5 667.3,666.8 C666.1,667.1 663.4,665.9 661.1,666.3 C658.8,666.6 656.0,668.0 653.4,668.9 C650.8,669.8 648.6,671.4 645.6,671.5 C642.6,671.6 638.0,670.7 635.3,669.4 C632.6,668.1 630.7,665.4 629.2,663.8 C627.8,662.2 627.0,660.3 626.6,659.6 Z" fill="#000"/>
<text transform="translate(669.0 507.0) scale(1 1.030)" font-size="35" text-anchor="start" fill="#000">cKI<tspan font-size="23.8" dy="-14.7">f/+</tspan></text>
<text transform="translate(712.0 562.0) scale(1 1.030)" font-size="35" text-anchor="middle" fill="#000">N</text>
<text transform="translate(512.5 740.0) scale(1 1.030)" font-size="35" text-anchor="middle" fill="#000">E</text>
<text transform="translate(910.5 742.5) scale(1 1.030)" font-size="35" text-anchor="middle" fill="#000">W</text>
<text transform="translate(715.0 929.5) scale(1 1.030)" font-size="35" text-anchor="middle" fill="#000">S</text>
<polygon points="394.5,1543.2 485.0,1543.2 485.0,1523.8 394.5,1523.8" fill="#00b0f0" stroke="#000" stroke-width="2.2" stroke-linejoin="miter"/>
<polygon points="380.3,1558.1 444.3,1622.1 458.1,1608.3 394.1,1544.3" fill="#00b0f0" stroke="#000" stroke-width="2.2" stroke-linejoin="miter"/>
<polygon points="359.8,1558.5 359.8,1649.0 379.2,1649.0 379.2,1558.5" fill="#00b0f0" stroke="#000" stroke-width="2.2" stroke-linejoin="miter"/>
<polygon points="344.9,1544.3 280.9,1608.3 294.7,1622.1 358.7,1558.1" fill="#00b0f0" stroke="#000" stroke-width="2.2" stroke-linejoin="miter"/>
<polyline points="347.5,1523.8 254.0,1523.8 254.0,1543.2 347.5,1543.2" fill="#fff" stroke="#000" stroke-width="2.2" stroke-linejoin="miter"/>
<polygon points="358.7,1508.9 294.7,1444.9 280.9,1458.7 344.9,1522.7" fill="#00b0f0" stroke="#000" stroke-width="2.2" stroke-linejoin="miter"/>
<polyline points="379.2,1511.5 379.2,1418.0 359.8,1418.0 359.8,1511.5" fill="#fff" stroke="#000" stroke-width="2.2" stroke-linejoin="miter"/>
<polygon points="394.1,1522.7 458.1,1458.7 444.3,1444.9 380.3,1508.9" fill="#00b0f0" stroke="#000" stroke-width="2.2" stroke-linejoin="miter"/>
<path d="M370.0,1436.6 Q368.1,1431.0 370.2,1417.0" stroke="#000" stroke-width="1.3" fill="none"/>
<g transform="translate(370.0 1445.0) rotate(90)"><ellipse cx="-2" cy="0" rx="8.6" ry="5.3" fill="#000"/><path d="M2,-4.8 L12.0,0 L2,4.8 Z" fill="#000"/><circle cx="3" cy="-4.8" r="2" fill="#000"/><circle cx="3" cy="4.8" r="2" fill="#000"/></g>
<path d="M307.4,1535.0 Q314.0,1533.5 329.0,1536.0" stroke="#000" stroke-width="1.3" fill="none"/>
<g transform="translate(299.0 1535.0) rotate(180)"><ellipse cx="-2" cy="0" rx="8.6" ry="5.3" fill="#000"/><path d="M2,-4.8 L12.0,0 L2,4.8 Z" fill="#000"/><circle cx="3" cy="-4.8" r="2" fill="#000"/><circle cx="3" cy="4.8" r="2" fill="#000"/></g>
<circle cx="270.1" cy="1532.4" r="5.7" fill="#fff" stroke="#000" stroke-width="1.6"/>
<text transform="translate(350.0 1434.0) scale(1 1.030)" font-size="25" text-anchor="end" fill="#000" style="font-weight:normal">Sample</text>
<text transform="translate(350.0 1464.0) scale(1 1.030)" font-size="25" text-anchor="end" fill="#000" style="font-weight:normal">arm</text>
<text transform="translate(266.5 1571.6) scale(1 1.030)" font-size="25" text-anchor="middle" fill="#000" style="font-weight:normal">Start arm</text>
<text transform="translate(554.0 1528.7) scale(1 1.030)" font-size="30" text-anchor="middle" fill="#000">Training</text>
<text transform="translate(558.8 1563.0) scale(1 1.030)" font-size="30" text-anchor="middle" fill="#000">phase</text>
<polygon points="327.8,1620.3 302.0,1658.9 293.5,1653.2 286.0,1691.5 318.5,1669.9 309.9,1664.2 335.8,1625.5" fill="#000"/>
<polygon points="401.4,1624.2 426.1,1664.5 417.4,1669.8 449.0,1692.7 443.0,1654.2 434.2,1659.5 409.6,1619.2" fill="#000"/>
<polygon points="247.5,1837.2 338.0,1837.2 338.0,1817.8 247.5,1817.8" fill="#00b0f0" stroke="#000" stroke-width="2.2" stroke-linejoin="miter"/>
<polygon points="233.3,1852.1 297.3,1916.1 311.1,1902.3 247.1,1838.3" fill="#00b0f0" stroke="#000" stroke-width="2.2" stroke-linejoin="miter"/>
<polyline points="212.8,1849.5 212.8,1943.0 232.2,1943.0 232.2,1849.5" fill="#fff" stroke="#000" stroke-width="2.2" stroke-linejoin="miter"/>
<polygon points="197.9,1838.3 133.9,1902.3 147.7,1916.1 211.7,1852.1" fill="#00b0f0" stroke="#000" stroke-width="2.2" stroke-linejoin="miter"/>
<polyline points="200.5,1817.8 107.0,1817.8 107.0,1837.2 200.5,1837.2" fill="#fff" stroke="#000" stroke-width="2.2" stroke-linejoin="miter"/>
<polygon points="211.7,1802.9 147.7,1738.9 133.9,1752.7 197.9,1816.7" fill="#00b0f0" stroke="#000" stroke-width="2.2" stroke-linejoin="miter"/>
<polyline points="232.2,1805.5 232.2,1712.0 212.7,1712.0 212.8,1805.5" fill="#fff" stroke="#000" stroke-width="2.2" stroke-linejoin="miter"/>
<polygon points="247.1,1816.7 311.1,1752.7 297.3,1738.9 233.3,1802.9" fill="#00b0f0" stroke="#000" stroke-width="2.2" stroke-linejoin="miter"/>
<path d="M225.7,1737.6 Q223.8,1731.2 226.5,1716.7" stroke="#000" stroke-width="1.3" fill="none"/>
<g transform="translate(225.0 1746.0) rotate(95)"><ellipse cx="-2" cy="0" rx="8.6" ry="5.3" fill="#000"/><path d="M2,-4.8 L12.0,0 L2,4.8 Z" fill="#000"/><circle cx="3" cy="-4.8" r="2" fill="#000"/><circle cx="3" cy="4.8" r="2" fill="#000"/></g>
<path d="M225.7,1893.6 Q223.8,1886.8 226.5,1872.0" stroke="#000" stroke-width="1.3" fill="none"/>
<g transform="translate(225.0 1902.0) rotate(95)"><ellipse cx="-2" cy="0" rx="8.6" ry="5.3" fill="#000"/><path d="M2,-4.8 L12.0,0 L2,4.8 Z" fill="#000"/><circle cx="3" cy="-4.8" r="2" fill="#000"/><circle cx="3" cy="4.8" r="2" fill="#000"/></g>
<circle cx="223.1" cy="1927.2" r="5.7" fill="#fff" stroke="#000" stroke-width="1.6"/>
<text transform="translate(210.0 1724.7) scale(1 1.030)" font-size="25" text-anchor="end" fill="#000" style="font-weight:normal">Start</text>
<text transform="translate(208.0 1754.5) scale(1 1.030)" font-size="25" text-anchor="end" fill="#000" style="font-weight:normal">arm</text>
<text transform="translate(97.0 1859.7) scale(1 1.030)" font-size="25" text-anchor="middle" fill="#000" style="font-weight:normal">Sample arm</text>
<text transform="translate(287.5 1942.0) scale(1 1.030)" font-size="25" text-anchor="middle" fill="#000" style="font-weight:normal">Test arm</text>
<text transform="translate(217.7 1986.8) scale(1 1.030)" font-size="30" text-anchor="middle" fill="#000">Separation 2</text>
<polygon points="532.5,1835.0 623.0,1835.0 623.0,1815.5 532.5,1815.5" fill="#00b0f0" stroke="#000" stroke-width="2.2" stroke-linejoin="miter"/>
<polygon points="518.3,1849.9 582.3,1913.9 596.1,1900.1 532.1,1836.1" fill="#00b0f0" stroke="#000" stroke-width="2.2" stroke-linejoin="miter"/>
<polyline points="497.8,1847.3 497.8,1940.8 517.2,1940.8 517.2,1847.3" fill="#fff" stroke="#000" stroke-width="2.2" stroke-linejoin="miter"/>
<polygon points="482.9,1836.1 418.9,1900.1 432.7,1913.9 496.7,1849.9" fill="#00b0f0" stroke="#000" stroke-width="2.2" stroke-linejoin="miter"/>
<polyline points="485.5,1815.5 392.0,1815.5 392.0,1835.0 485.5,1835.0" fill="#fff" stroke="#000" stroke-width="2.2" stroke-linejoin="miter"/>
<polygon points="496.7,1800.7 432.7,1736.7 418.9,1750.5 482.9,1814.5" fill="#00b0f0" stroke="#000" stroke-width="2.2" stroke-linejoin="miter"/>
<polyline points="517.2,1803.3 517.2,1709.8 497.8,1709.8 497.8,1803.3" fill="#fff" stroke="#000" stroke-width="2.2" stroke-linejoin="miter"/>
<polygon points="532.1,1814.5 596.1,1750.5 582.3,1736.7 518.3,1800.7" fill="#00b0f0" stroke="#000" stroke-width="2.2" stroke-linejoin="miter"/>
<path d="M421.6,1826.0 Q415.0,1828.5 400.0,1827.0" stroke="#000" stroke-width="1.3" fill="none"/>
<g transform="translate(430.0 1826.0) rotate(0)"><ellipse cx="-2" cy="0" rx="8.6" ry="5.3" fill="#000"/><path d="M2,-4.8 L12.0,0 L2,4.8 Z" fill="#000"/><circle cx="3" cy="-4.8" r="2" fill="#000"/><circle cx="3" cy="4.8" r="2" fill="#000"/></g>
<path d="M507.2,1881.6 Q504.4,1875.3 506.2,1861.0" stroke="#000" stroke-width="1.3" fill="none"/>
<g transform="translate(506.5 1890.0) rotate(95)"><ellipse cx="-2" cy="0" rx="8.6" ry="5.3" fill="#000"/><path d="M2,-4.8 L12.0,0 L2,4.8 Z" fill="#000"/><circle cx="3" cy="-4.8" r="2" fill="#000"/><circle cx="3" cy="4.8" r="2" fill="#000"/></g>
<circle cx="506.2" cy="1926.0" r="5.7" fill="#fff" stroke="#000" stroke-width="1.6"/>
<text transform="translate(488.0 1722.4) scale(1 1.030)" font-size="25" text-anchor="end" fill="#000" style="font-weight:normal">Sample</text>
<text transform="translate(487.4 1752.2) scale(1 1.030)" font-size="25" text-anchor="end" fill="#000" style="font-weight:normal">arm</text>
<text transform="translate(405.0 1859.7) scale(1 1.030)" font-size="25" text-anchor="middle" fill="#000" style="font-weight:normal">Start arm</text>
<text transform="translate(570.0 1938.7) scale(1 1.030)" font-size="25" text-anchor="middle" fill="#000" style="font-weight:normal">Test arm</text>
<text transform="translate(679.0 1822.0) scale(1 1.030)" font-size="30" text-anchor="middle" fill="#000">Test</text>
<text transform="translate(679.0 1857.4) scale(1 1.030)" font-size="30" text-anchor="middle" fill="#000">phase</text>
<text transform="translate(516.0 1986.8) scale(1 1.030)" font-size="30" text-anchor="middle" fill="#000">Separation 4</text>
</svg></body></html>
